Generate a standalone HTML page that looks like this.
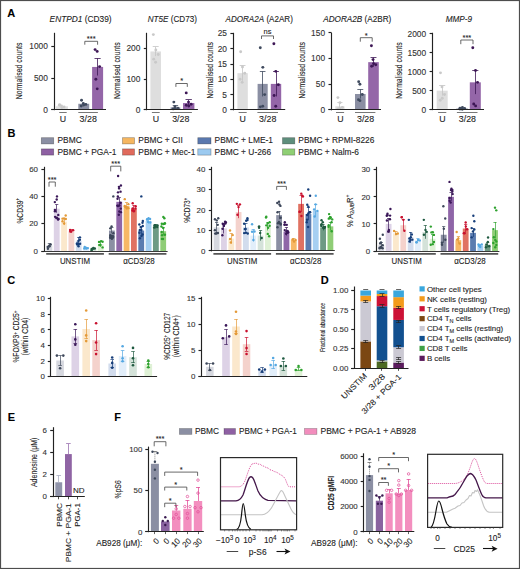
<!DOCTYPE html><html><head><meta charset="utf-8"><style>html,body{margin:0;padding:0;background:#fff;}svg{display:block;}text{font-family:"Liberation Sans",sans-serif;stroke:#1a1a1a;stroke-width:0.1px;paint-order:stroke;}</style></head><body><svg width="520" height="569" viewBox="0 0 520 569"><rect width="520" height="569" fill="#fff"/><rect x="0.5" y="0.5" width="519" height="568" fill="none" stroke="#4d4d4d" stroke-width="1.2"/>
<text x="7.30" y="17.00" font-size="11" text-anchor="start" fill="#000" font-weight="bold">A</text>
<text x="7.60" y="137.30" font-size="11" text-anchor="start" fill="#000" font-weight="bold">B</text>
<text x="7.30" y="283.90" font-size="11" text-anchor="start" fill="#000" font-weight="bold">C</text>
<text x="320.80" y="283.50" font-size="11" text-anchor="start" fill="#000" font-weight="bold">D</text>
<text x="7.80" y="420.70" font-size="11" text-anchor="start" fill="#000" font-weight="bold">E</text>
<text x="114.20" y="420.80" font-size="11" text-anchor="start" fill="#000" font-weight="bold">F</text>
<text x="49.60" y="22.3" font-size="8.2" fill="#222" textLength="62.00" lengthAdjust="spacingAndGlyphs"><tspan font-style="italic">ENTPD1</tspan> (CD39)</text>
<text x="22.40" y="70.90" font-size="8.4" text-anchor="middle" fill="#222" textLength="56.50" lengthAdjust="spacingAndGlyphs" transform="rotate(-90 22.40 70.90)">Normalised counts</text>
<rect x="55.80" y="106.31" width="12.10" height="3.49" fill="#dedede"/>
<circle cx="59.59" cy="104.72" r="1.45" fill="#c9c9c9"/>
<circle cx="61.50" cy="105.99" r="1.45" fill="#c9c9c9"/>
<circle cx="64.08" cy="106.94" r="1.45" fill="#c9c9c9"/>
<circle cx="59.34" cy="105.35" r="1.45" fill="#c9c9c9"/>
<circle cx="61.89" cy="107.58" r="1.45" fill="#c9c9c9"/>
<rect x="78.30" y="103.77" width="10.90" height="6.03" fill="#8b8fa3"/>
<circle cx="81.54" cy="100.27" r="1.45" fill="#3f4a5e"/>
<circle cx="83.31" cy="103.45" r="1.45" fill="#3f4a5e"/>
<circle cx="85.84" cy="104.40" r="1.45" fill="#3f4a5e"/>
<circle cx="81.21" cy="105.99" r="1.45" fill="#3f4a5e"/>
<circle cx="83.68" cy="105.04" r="1.45" fill="#3f4a5e"/>
<rect x="92.10" y="66.94" width="11.00" height="42.86" fill="#9466a8"/>
<line x1="97.50" y1="58.36" x2="97.50" y2="75.51" stroke="#3d1655" stroke-width="0.8"/>
<line x1="94.52" y1="58.50" x2="100.68" y2="58.50" stroke="#3d1655" stroke-width="0.8"/>
<circle cx="95.09" cy="49.60" r="1.45" fill="#3d1655"/>
<circle cx="97.19" cy="51.38" r="1.45" fill="#3d1655"/>
<circle cx="99.60" cy="66.62" r="1.45" fill="#3d1655"/>
<circle cx="95.85" cy="79.32" r="1.45" fill="#3d1655"/>
<circle cx="97.22" cy="88.84" r="1.45" fill="#3d1655"/>
<line x1="54.50" y1="32.80" x2="54.50" y2="110.20" stroke="#222" stroke-width="1.15"/>
<line x1="51.30" y1="109.50" x2="54.30" y2="109.50" stroke="#222" stroke-width="1.15"/>
<text x="47.90" y="112.70" font-size="8.4" text-anchor="end" fill="#333">0</text>
<line x1="51.30" y1="78.50" x2="54.30" y2="78.50" stroke="#222" stroke-width="1.15"/>
<text x="47.90" y="80.95" font-size="8.4" text-anchor="end" fill="#333">500</text>
<line x1="51.30" y1="46.50" x2="54.30" y2="46.50" stroke="#222" stroke-width="1.15"/>
<text x="47.90" y="49.20" font-size="8.4" text-anchor="end" fill="#333">1000</text>
<line x1="51.30" y1="109.50" x2="106.00" y2="109.50" stroke="#222" stroke-width="1.1"/>
<path d="M84.80 44.70V41.30H97.60V44.70" fill="none" stroke="#444" stroke-width="0.8"/>
<text x="91.20" y="40.60" font-size="7.5" text-anchor="middle" fill="#222">***</text>
<line x1="59.20" y1="112.50" x2="66.70" y2="112.50" stroke="#555" stroke-width="0.8"/>
<line x1="78.30" y1="112.50" x2="97.90" y2="112.50" stroke="#555" stroke-width="0.8"/>
<text x="63.00" y="121.80" font-size="8.8" text-anchor="middle" fill="#222">U</text>
<text x="88.20" y="121.80" font-size="8.8" text-anchor="middle" fill="#222" textLength="17.20" lengthAdjust="spacingAndGlyphs">3/28</text>
<text x="147.70" y="22.3" font-size="8.2" fill="#222" textLength="49.20" lengthAdjust="spacingAndGlyphs"><tspan font-style="italic">NT5E</tspan> (CD73)</text>
<text x="120.50" y="70.70" font-size="8.4" text-anchor="middle" fill="#222" textLength="56.50" lengthAdjust="spacingAndGlyphs" transform="rotate(-90 120.50 70.70)">Normalised counts</text>
<rect x="150.40" y="51.47" width="10.60" height="58.33" fill="#dedede"/>
<line x1="155.50" y1="46.86" x2="155.50" y2="56.07" stroke="#c4c4c4" stroke-width="0.8"/>
<line x1="152.73" y1="46.50" x2="158.67" y2="46.50" stroke="#c4c4c4" stroke-width="0.8"/>
<circle cx="153.34" cy="34.58" r="1.45" fill="#c9c9c9"/>
<circle cx="155.83" cy="49.93" r="1.45" fill="#c9c9c9"/>
<circle cx="158.23" cy="54.54" r="1.45" fill="#c9c9c9"/>
<circle cx="153.70" cy="59.14" r="1.45" fill="#c9c9c9"/>
<circle cx="155.60" cy="62.21" r="1.45" fill="#c9c9c9"/>
<rect x="170.60" y="107.34" width="9.70" height="2.46" fill="#8b8fa3"/>
<line x1="175.50" y1="105.50" x2="175.50" y2="109.19" stroke="#3f4a5e" stroke-width="0.8"/>
<line x1="172.73" y1="105.50" x2="178.17" y2="105.50" stroke="#3f4a5e" stroke-width="0.8"/>
<circle cx="173.85" cy="102.12" r="1.45" fill="#3f4a5e"/>
<circle cx="175.00" cy="106.73" r="1.45" fill="#3f4a5e"/>
<circle cx="177.89" cy="108.27" r="1.45" fill="#3f4a5e"/>
<circle cx="173.16" cy="108.88" r="1.45" fill="#3f4a5e"/>
<circle cx="175.09" cy="108.57" r="1.45" fill="#3f4a5e"/>
<rect x="183.00" y="103.05" width="11.40" height="6.75" fill="#9466a8"/>
<line x1="188.50" y1="99.98" x2="188.50" y2="106.12" stroke="#3d1655" stroke-width="0.8"/>
<line x1="185.51" y1="99.50" x2="191.89" y2="99.50" stroke="#3d1655" stroke-width="0.8"/>
<circle cx="186.24" cy="92.91" r="1.45" fill="#3d1655"/>
<circle cx="188.51" cy="102.12" r="1.45" fill="#3d1655"/>
<circle cx="191.10" cy="104.27" r="1.45" fill="#3d1655"/>
<circle cx="186.30" cy="105.19" r="1.45" fill="#3d1655"/>
<circle cx="188.78" cy="106.12" r="1.45" fill="#3d1655"/>
<line x1="146.50" y1="32.80" x2="146.50" y2="110.20" stroke="#222" stroke-width="1.15"/>
<line x1="143.80" y1="109.50" x2="146.80" y2="109.50" stroke="#222" stroke-width="1.15"/>
<text x="140.40" y="112.70" font-size="8.4" text-anchor="end" fill="#333">0</text>
<line x1="143.80" y1="79.50" x2="146.80" y2="79.50" stroke="#222" stroke-width="1.15"/>
<text x="140.40" y="82.00" font-size="8.4" text-anchor="end" fill="#333">100</text>
<line x1="143.80" y1="48.50" x2="146.80" y2="48.50" stroke="#222" stroke-width="1.15"/>
<text x="140.40" y="51.30" font-size="8.4" text-anchor="end" fill="#333">200</text>
<line x1="143.80" y1="109.50" x2="197.90" y2="109.50" stroke="#222" stroke-width="1.1"/>
<path d="M175.90 86.90V83.50H187.30V86.90" fill="none" stroke="#444" stroke-width="0.8"/>
<text x="181.60" y="83.40" font-size="7.5" text-anchor="middle" fill="#222">*</text>
<line x1="151.90" y1="112.50" x2="159.70" y2="112.50" stroke="#555" stroke-width="0.8"/>
<line x1="170.20" y1="112.50" x2="191.90" y2="112.50" stroke="#555" stroke-width="0.8"/>
<text x="155.90" y="121.80" font-size="8.8" text-anchor="middle" fill="#222">U</text>
<text x="180.80" y="121.80" font-size="8.8" text-anchor="middle" fill="#222" textLength="17.20" lengthAdjust="spacingAndGlyphs">3/28</text>
<text x="225.50" y="22.3" font-size="8.2" fill="#222" textLength="67.40" lengthAdjust="spacingAndGlyphs"><tspan font-style="italic">ADORA2A</tspan> (A2AR)</text>
<text x="212.70" y="70.30" font-size="8.4" text-anchor="middle" fill="#222" textLength="56.50" lengthAdjust="spacingAndGlyphs" transform="rotate(-90 212.70 70.30)">Normalised counts</text>
<rect x="237.40" y="73.18" width="10.40" height="36.72" fill="#dedede"/>
<line x1="242.50" y1="65.53" x2="242.50" y2="80.83" stroke="#c4c4c4" stroke-width="0.8"/>
<line x1="239.69" y1="65.50" x2="245.51" y2="65.50" stroke="#c4c4c4" stroke-width="0.8"/>
<circle cx="240.66" cy="51.76" r="1.45" fill="#c9c9c9"/>
<circle cx="242.47" cy="67.06" r="1.45" fill="#c9c9c9"/>
<circle cx="244.73" cy="73.18" r="1.45" fill="#c9c9c9"/>
<circle cx="240.08" cy="79.30" r="1.45" fill="#c9c9c9"/>
<circle cx="242.16" cy="82.36" r="1.45" fill="#c9c9c9"/>
<rect x="257.60" y="83.89" width="10.10" height="26.01" fill="#8b8fa3"/>
<line x1="262.50" y1="71.34" x2="262.50" y2="96.44" stroke="#3f4a5e" stroke-width="0.8"/>
<line x1="259.82" y1="71.50" x2="265.48" y2="71.50" stroke="#3f4a5e" stroke-width="0.8"/>
<circle cx="260.28" cy="47.78" r="1.45" fill="#3f4a5e"/>
<circle cx="262.83" cy="67.37" r="1.45" fill="#3f4a5e"/>
<circle cx="264.66" cy="94.60" r="1.45" fill="#3f4a5e"/>
<circle cx="260.38" cy="106.84" r="1.45" fill="#3f4a5e"/>
<circle cx="262.74" cy="106.23" r="1.45" fill="#3f4a5e"/>
<rect x="270.80" y="83.89" width="10.40" height="26.01" fill="#9466a8"/>
<line x1="276.50" y1="71.34" x2="276.50" y2="96.44" stroke="#3d1655" stroke-width="0.8"/>
<line x1="273.09" y1="71.50" x2="278.91" y2="71.50" stroke="#3d1655" stroke-width="0.8"/>
<circle cx="273.87" cy="43.80" r="1.45" fill="#3d1655"/>
<circle cx="275.80" cy="71.34" r="1.45" fill="#3d1655"/>
<circle cx="278.37" cy="84.81" r="1.45" fill="#3d1655"/>
<circle cx="274.12" cy="95.52" r="1.45" fill="#3d1655"/>
<circle cx="275.74" cy="106.23" r="1.45" fill="#3d1655"/>
<line x1="233.50" y1="32.80" x2="233.50" y2="110.30" stroke="#222" stroke-width="1.15"/>
<line x1="230.40" y1="109.50" x2="233.40" y2="109.50" stroke="#222" stroke-width="1.15"/>
<text x="227.00" y="112.80" font-size="8.4" text-anchor="end" fill="#333">0</text>
<line x1="230.40" y1="94.50" x2="233.40" y2="94.50" stroke="#222" stroke-width="1.15"/>
<text x="227.00" y="97.50" font-size="8.4" text-anchor="end" fill="#333">5</text>
<line x1="230.40" y1="79.50" x2="233.40" y2="79.50" stroke="#222" stroke-width="1.15"/>
<text x="227.00" y="82.20" font-size="8.4" text-anchor="end" fill="#333">10</text>
<line x1="230.40" y1="64.50" x2="233.40" y2="64.50" stroke="#222" stroke-width="1.15"/>
<text x="227.00" y="66.90" font-size="8.4" text-anchor="end" fill="#333">15</text>
<line x1="230.40" y1="48.50" x2="233.40" y2="48.50" stroke="#222" stroke-width="1.15"/>
<text x="227.00" y="51.60" font-size="8.4" text-anchor="end" fill="#333">20</text>
<line x1="230.40" y1="33.50" x2="233.40" y2="33.50" stroke="#222" stroke-width="1.15"/>
<text x="227.00" y="36.30" font-size="8.4" text-anchor="end" fill="#333">25</text>
<line x1="230.40" y1="109.50" x2="285.20" y2="109.50" stroke="#222" stroke-width="1.1"/>
<path d="M261.50 39.00V35.90H273.50V39.00" fill="none" stroke="#444" stroke-width="0.8"/>
<text x="267.50" y="33.60" font-size="7.5" text-anchor="middle" fill="#222">ns</text>
<line x1="238.60" y1="112.50" x2="246.70" y2="112.50" stroke="#555" stroke-width="0.8"/>
<line x1="257.40" y1="112.50" x2="278.00" y2="112.50" stroke="#555" stroke-width="0.8"/>
<text x="242.70" y="121.80" font-size="8.8" text-anchor="middle" fill="#222">U</text>
<text x="267.70" y="121.80" font-size="8.8" text-anchor="middle" fill="#222" textLength="17.20" lengthAdjust="spacingAndGlyphs">3/28</text>
<text x="323.20" y="22.3" font-size="8.2" fill="#222" textLength="68.10" lengthAdjust="spacingAndGlyphs"><tspan font-style="italic">ADORA2B</tspan> (A2BR)</text>
<text x="304.90" y="70.30" font-size="8.4" text-anchor="middle" fill="#222" textLength="56.50" lengthAdjust="spacingAndGlyphs" transform="rotate(-90 304.90 70.30)">Normalised counts</text>
<rect x="335.30" y="106.31" width="9.20" height="3.59" fill="#dedede"/>
<line x1="339.50" y1="102.71" x2="339.50" y2="109.90" stroke="#c4c4c4" stroke-width="0.8"/>
<line x1="337.32" y1="102.50" x2="342.48" y2="102.50" stroke="#c4c4c4" stroke-width="0.8"/>
<circle cx="337.89" cy="97.58" r="1.45" fill="#c9c9c9"/>
<circle cx="339.93" cy="102.71" r="1.45" fill="#c9c9c9"/>
<circle cx="342.36" cy="107.33" r="1.45" fill="#c9c9c9"/>
<circle cx="338.05" cy="108.87" r="1.45" fill="#c9c9c9"/>
<circle cx="339.69" cy="108.36" r="1.45" fill="#c9c9c9"/>
<rect x="355.00" y="93.99" width="10.60" height="15.91" fill="#8b8fa3"/>
<line x1="360.50" y1="89.37" x2="360.50" y2="98.61" stroke="#3f4a5e" stroke-width="0.8"/>
<line x1="357.33" y1="89.50" x2="363.27" y2="89.50" stroke="#3f4a5e" stroke-width="0.8"/>
<circle cx="358.70" cy="81.67" r="1.45" fill="#3f4a5e"/>
<circle cx="359.92" cy="84.23" r="1.45" fill="#3f4a5e"/>
<circle cx="362.30" cy="94.50" r="1.45" fill="#3f4a5e"/>
<circle cx="358.48" cy="99.63" r="1.45" fill="#3f4a5e"/>
<circle cx="359.95" cy="100.66" r="1.45" fill="#3f4a5e"/>
<rect x="368.20" y="62.16" width="10.60" height="47.74" fill="#9466a8"/>
<line x1="373.50" y1="57.54" x2="373.50" y2="66.78" stroke="#3d1655" stroke-width="0.8"/>
<line x1="370.53" y1="57.50" x2="376.47" y2="57.50" stroke="#3d1655" stroke-width="0.8"/>
<circle cx="371.41" cy="45.73" r="1.45" fill="#3d1655"/>
<circle cx="373.04" cy="59.59" r="1.45" fill="#3d1655"/>
<circle cx="375.75" cy="64.73" r="1.45" fill="#3d1655"/>
<circle cx="371.68" cy="66.27" r="1.45" fill="#3d1655"/>
<circle cx="373.57" cy="63.70" r="1.45" fill="#3d1655"/>
<line x1="331.50" y1="32.80" x2="331.50" y2="110.30" stroke="#222" stroke-width="1.15"/>
<line x1="328.50" y1="109.50" x2="331.50" y2="109.50" stroke="#222" stroke-width="1.15"/>
<text x="325.10" y="112.80" font-size="8.4" text-anchor="end" fill="#333">0</text>
<line x1="328.50" y1="84.50" x2="331.50" y2="84.50" stroke="#222" stroke-width="1.15"/>
<text x="325.10" y="87.13" font-size="8.4" text-anchor="end" fill="#333">50</text>
<line x1="328.50" y1="58.50" x2="331.50" y2="58.50" stroke="#222" stroke-width="1.15"/>
<text x="325.10" y="61.47" font-size="8.4" text-anchor="end" fill="#333">100</text>
<line x1="328.50" y1="32.50" x2="331.50" y2="32.50" stroke="#222" stroke-width="1.15"/>
<text x="325.10" y="35.80" font-size="8.4" text-anchor="end" fill="#333">150</text>
<line x1="328.50" y1="109.50" x2="381.00" y2="109.50" stroke="#222" stroke-width="1.1"/>
<path d="M360.30 41.70V37.70H372.20V41.70" fill="none" stroke="#444" stroke-width="0.8"/>
<text x="366.25" y="37.50" font-size="7.5" text-anchor="middle" fill="#222">*</text>
<line x1="336.00" y1="112.50" x2="344.10" y2="112.50" stroke="#555" stroke-width="0.8"/>
<line x1="355.00" y1="112.50" x2="375.40" y2="112.50" stroke="#555" stroke-width="0.8"/>
<text x="340.40" y="121.80" font-size="8.8" text-anchor="middle" fill="#222">U</text>
<text x="365.60" y="121.80" font-size="8.8" text-anchor="middle" fill="#222" textLength="17.20" lengthAdjust="spacingAndGlyphs">3/28</text>
<text x="445.70" y="22.3" font-size="8.2" fill="#222" textLength="26.30" lengthAdjust="spacingAndGlyphs"><tspan font-style="italic">MMP-9</tspan></text>
<text x="402.50" y="70.60" font-size="8.4" text-anchor="middle" fill="#222" textLength="56.50" lengthAdjust="spacingAndGlyphs" transform="rotate(-90 402.50 70.60)">Normalised counts</text>
<rect x="436.70" y="90.70" width="11.00" height="19.00" fill="#dedede"/>
<line x1="442.50" y1="85.76" x2="442.50" y2="95.64" stroke="#c4c4c4" stroke-width="0.8"/>
<line x1="439.12" y1="85.50" x2="445.28" y2="85.50" stroke="#c4c4c4" stroke-width="0.8"/>
<circle cx="440.50" cy="72.84" r="1.45" fill="#c9c9c9"/>
<circle cx="442.01" cy="86.90" r="1.45" fill="#c9c9c9"/>
<circle cx="444.48" cy="94.50" r="1.45" fill="#c9c9c9"/>
<circle cx="440.21" cy="100.20" r="1.45" fill="#c9c9c9"/>
<circle cx="442.28" cy="98.30" r="1.45" fill="#c9c9c9"/>
<rect x="456.30" y="108.56" width="11.60" height="1.14" fill="#8b8fa3"/>
<circle cx="459.98" cy="108.94" r="1.45" fill="#3f4a5e"/>
<circle cx="462.44" cy="107.42" r="1.45" fill="#3f4a5e"/>
<circle cx="464.62" cy="108.56" r="1.45" fill="#3f4a5e"/>
<circle cx="459.99" cy="108.18" r="1.45" fill="#3f4a5e"/>
<circle cx="462.26" cy="109.32" r="1.45" fill="#3f4a5e"/>
<rect x="469.80" y="82.34" width="11.00" height="27.36" fill="#9466a8"/>
<line x1="475.50" y1="70.56" x2="475.50" y2="94.12" stroke="#3d1655" stroke-width="0.8"/>
<line x1="472.22" y1="70.50" x2="478.38" y2="70.50" stroke="#3d1655" stroke-width="0.8"/>
<circle cx="472.78" cy="47.76" r="1.45" fill="#3d1655"/>
<circle cx="475.50" cy="70.56" r="1.45" fill="#3d1655"/>
<circle cx="477.53" cy="82.34" r="1.45" fill="#3d1655"/>
<circle cx="473.71" cy="104.00" r="1.45" fill="#3d1655"/>
<circle cx="475.62" cy="105.90" r="1.45" fill="#3d1655"/>
<line x1="432.50" y1="32.80" x2="432.50" y2="110.10" stroke="#222" stroke-width="1.15"/>
<line x1="429.60" y1="109.50" x2="432.60" y2="109.50" stroke="#222" stroke-width="1.15"/>
<text x="426.20" y="112.60" font-size="8.4" text-anchor="end" fill="#333">0</text>
<line x1="429.60" y1="90.50" x2="432.60" y2="90.50" stroke="#222" stroke-width="1.15"/>
<text x="426.20" y="93.60" font-size="8.4" text-anchor="end" fill="#333">500</text>
<line x1="429.60" y1="71.50" x2="432.60" y2="71.50" stroke="#222" stroke-width="1.15"/>
<text x="426.20" y="74.60" font-size="8.4" text-anchor="end" fill="#333">1000</text>
<line x1="429.60" y1="52.50" x2="432.60" y2="52.50" stroke="#222" stroke-width="1.15"/>
<text x="426.20" y="55.60" font-size="8.4" text-anchor="end" fill="#333">1500</text>
<line x1="429.60" y1="33.50" x2="432.60" y2="33.50" stroke="#222" stroke-width="1.15"/>
<text x="426.20" y="36.60" font-size="8.4" text-anchor="end" fill="#333">2000</text>
<line x1="429.60" y1="109.50" x2="484.00" y2="109.50" stroke="#222" stroke-width="1.1"/>
<path d="M460.80 44.20V40.00H473.00V44.20" fill="none" stroke="#444" stroke-width="0.8"/>
<text x="466.90" y="39.50" font-size="7.5" text-anchor="middle" fill="#222">***</text>
<line x1="438.10" y1="112.50" x2="446.30" y2="112.50" stroke="#555" stroke-width="0.8"/>
<line x1="456.90" y1="112.50" x2="477.50" y2="112.50" stroke="#555" stroke-width="0.8"/>
<text x="442.40" y="121.80" font-size="8.8" text-anchor="middle" fill="#222">U</text>
<text x="467.40" y="121.80" font-size="8.8" text-anchor="middle" fill="#222" textLength="17.20" lengthAdjust="spacingAndGlyphs">3/28</text>
<rect x="41.30" y="137.70" width="12.40" height="6.20" fill="#8b8fa3" stroke="#000" stroke-opacity="0.35" stroke-width="0.7"/>
<text x="57.50" y="143.40" font-size="8.4" text-anchor="start" fill="#222">PBMC</text>
<rect x="41.30" y="148.90" width="12.40" height="6.20" fill="#8e60a3" stroke="#000" stroke-opacity="0.35" stroke-width="0.7"/>
<text x="57.50" y="154.60" font-size="8.4" text-anchor="start" fill="#222">PBMC + PGA-1</text>
<rect x="122.50" y="137.70" width="12.00" height="6.20" fill="#f5b660" stroke="#000" stroke-opacity="0.35" stroke-width="0.7"/>
<text x="138.30" y="143.40" font-size="8.4" text-anchor="start" fill="#222">PBMC + CII</text>
<rect x="122.50" y="148.90" width="12.00" height="6.20" fill="#e06a5c" stroke="#000" stroke-opacity="0.35" stroke-width="0.7"/>
<text x="138.30" y="154.60" font-size="8.4" text-anchor="start" fill="#222">PBMC + Mec-1</text>
<rect x="197.80" y="137.70" width="13.20" height="6.20" fill="#5a78ae" stroke="#000" stroke-opacity="0.35" stroke-width="0.7"/>
<text x="214.60" y="143.40" font-size="8.4" text-anchor="start" fill="#222">PBMC + LME-1</text>
<rect x="197.80" y="148.90" width="13.20" height="6.20" fill="#9ccaf0" stroke="#000" stroke-opacity="0.35" stroke-width="0.7"/>
<text x="214.60" y="154.60" font-size="8.4" text-anchor="start" fill="#222">PBMC + U-266</text>
<rect x="282.50" y="137.70" width="12.30" height="6.20" fill="#5e8e7c" stroke="#000" stroke-opacity="0.35" stroke-width="0.7"/>
<text x="298.30" y="143.40" font-size="8.4" text-anchor="start" fill="#222">PBMC + RPMI-8226</text>
<rect x="282.50" y="148.90" width="12.30" height="6.20" fill="#8fcf74" stroke="#000" stroke-opacity="0.35" stroke-width="0.7"/>
<text x="298.30" y="154.60" font-size="8.4" text-anchor="start" fill="#222">PBMC + Nalm-6</text>
<rect x="46.50" y="245.54" width="5.80" height="5.46" fill="#d6d8df"/>
<line x1="49.50" y1="243.49" x2="49.50" y2="247.59" stroke="#3d475a" stroke-width="0.7"/>
<line x1="47.80" y1="243.50" x2="51.00" y2="243.50" stroke="#3d475a" stroke-width="0.7"/>
<circle cx="47.74" cy="247.01" r="1.2" fill="#3d475a"/>
<circle cx="49.61" cy="246.32" r="1.2" fill="#3d475a"/>
<circle cx="50.73" cy="244.39" r="1.2" fill="#3d475a"/>
<circle cx="47.90" cy="248.80" r="1.2" fill="#3d475a"/>
<circle cx="49.14" cy="245.80" r="1.2" fill="#3d475a"/>
<rect x="53.83" y="208.69" width="5.80" height="42.31" fill="#ddd2e6"/>
<line x1="56.50" y1="204.59" x2="56.50" y2="212.78" stroke="#3a1758" stroke-width="0.7"/>
<line x1="55.13" y1="204.50" x2="58.33" y2="204.50" stroke="#3a1758" stroke-width="0.7"/>
<circle cx="55.11" cy="216.84" r="1.2" fill="#3a1758"/>
<circle cx="56.34" cy="218.09" r="1.2" fill="#3a1758"/>
<circle cx="58.03" cy="219.52" r="1.2" fill="#3a1758"/>
<circle cx="54.84" cy="202.09" r="1.2" fill="#3a1758"/>
<circle cx="56.92" cy="217.79" r="1.2" fill="#3a1758"/>
<circle cx="58.27" cy="214.89" r="1.2" fill="#3a1758"/>
<circle cx="54.98" cy="211.36" r="1.2" fill="#3a1758"/>
<circle cx="56.71" cy="199.56" r="1.2" fill="#3a1758"/>
<circle cx="58.58" cy="218.99" r="1.2" fill="#3a1758"/>
<circle cx="54.92" cy="209.93" r="1.2" fill="#3a1758"/>
<circle cx="56.99" cy="196.40" r="1.2" fill="#3a1758"/>
<rect x="61.16" y="221.65" width="5.80" height="29.35" fill="#fbe8cc"/>
<line x1="64.50" y1="218.24" x2="64.50" y2="225.06" stroke="#e49a38" stroke-width="0.7"/>
<line x1="62.46" y1="218.50" x2="65.66" y2="218.50" stroke="#e49a38" stroke-width="0.7"/>
<circle cx="62.51" cy="221.25" r="1.2" fill="#e49a38"/>
<circle cx="64.06" cy="218.51" r="1.2" fill="#e49a38"/>
<circle cx="65.83" cy="219.04" r="1.2" fill="#e49a38"/>
<circle cx="62.47" cy="218.67" r="1.2" fill="#e49a38"/>
<circle cx="64.07" cy="223.47" r="1.2" fill="#e49a38"/>
<circle cx="65.71" cy="215.51" r="1.2" fill="#e49a38"/>
<rect x="68.49" y="231.21" width="5.80" height="19.79" fill="#f4d2cc"/>
<line x1="71.50" y1="229.84" x2="71.50" y2="232.57" stroke="#c8102e" stroke-width="0.7"/>
<line x1="69.79" y1="229.50" x2="72.99" y2="229.50" stroke="#c8102e" stroke-width="0.7"/>
<circle cx="70.28" cy="231.44" r="1.2" fill="#c8102e"/>
<circle cx="71.26" cy="231.59" r="1.2" fill="#c8102e"/>
<circle cx="73.16" cy="230.16" r="1.2" fill="#c8102e"/>
<circle cx="70.06" cy="229.96" r="1.2" fill="#c8102e"/>
<rect x="75.82" y="240.76" width="5.80" height="10.24" fill="#d2dced"/>
<line x1="78.50" y1="237.35" x2="78.50" y2="244.18" stroke="#173e7a" stroke-width="0.7"/>
<line x1="77.12" y1="237.50" x2="80.32" y2="237.50" stroke="#173e7a" stroke-width="0.7"/>
<circle cx="77.33" cy="244.57" r="1.2" fill="#173e7a"/>
<circle cx="78.64" cy="244.30" r="1.2" fill="#173e7a"/>
<circle cx="80.10" cy="243.69" r="1.2" fill="#173e7a"/>
<circle cx="76.86" cy="243.67" r="1.2" fill="#173e7a"/>
<circle cx="78.42" cy="240.93" r="1.2" fill="#173e7a"/>
<circle cx="79.88" cy="239.79" r="1.2" fill="#173e7a"/>
<circle cx="77.41" cy="243.35" r="1.2" fill="#173e7a"/>
<circle cx="78.52" cy="246.18" r="1.2" fill="#173e7a"/>
<circle cx="79.95" cy="237.35" r="1.2" fill="#173e7a"/>
<rect x="83.15" y="248.27" width="5.80" height="2.73" fill="#e2eefa"/>
<line x1="86.50" y1="247.59" x2="86.50" y2="248.95" stroke="#55a8e2" stroke-width="0.7"/>
<line x1="84.45" y1="247.50" x2="87.65" y2="247.50" stroke="#55a8e2" stroke-width="0.7"/>
<circle cx="84.22" cy="248.49" r="1.2" fill="#55a8e2"/>
<circle cx="86.32" cy="248.63" r="1.2" fill="#55a8e2"/>
<circle cx="87.85" cy="248.09" r="1.2" fill="#55a8e2"/>
<circle cx="84.69" cy="247.03" r="1.2" fill="#55a8e2"/>
<circle cx="85.88" cy="247.75" r="1.2" fill="#55a8e2"/>
<rect x="90.48" y="248.95" width="5.80" height="2.05" fill="#d4e2d9"/>
<line x1="93.50" y1="248.27" x2="93.50" y2="249.63" stroke="#1f5a40" stroke-width="0.7"/>
<line x1="91.78" y1="248.50" x2="94.98" y2="248.50" stroke="#1f5a40" stroke-width="0.7"/>
<circle cx="91.67" cy="248.91" r="1.2" fill="#1f5a40"/>
<circle cx="93.21" cy="248.63" r="1.2" fill="#1f5a40"/>
<circle cx="94.85" cy="248.47" r="1.2" fill="#1f5a40"/>
<circle cx="91.61" cy="250.17" r="1.2" fill="#1f5a40"/>
<circle cx="93.34" cy="247.86" r="1.2" fill="#1f5a40"/>
<rect x="97.81" y="244.18" width="5.80" height="6.82" fill="#dff1d6"/>
<line x1="100.50" y1="241.44" x2="100.50" y2="246.91" stroke="#2ea22e" stroke-width="0.7"/>
<line x1="99.11" y1="241.50" x2="102.31" y2="241.50" stroke="#2ea22e" stroke-width="0.7"/>
<circle cx="99.02" cy="241.88" r="1.2" fill="#2ea22e"/>
<circle cx="101.08" cy="241.11" r="1.2" fill="#2ea22e"/>
<circle cx="102.59" cy="241.74" r="1.2" fill="#2ea22e"/>
<circle cx="99.25" cy="245.06" r="1.2" fill="#2ea22e"/>
<circle cx="100.51" cy="245.00" r="1.2" fill="#2ea22e"/>
<circle cx="102.58" cy="247.42" r="1.2" fill="#2ea22e"/>
<line x1="46.20" y1="253.90" x2="103.91" y2="253.90" stroke="#555" stroke-width="1.6"/>
<rect x="109.00" y="230.53" width="5.80" height="20.47" fill="#8b8fa3"/>
<line x1="111.50" y1="227.80" x2="111.50" y2="233.25" stroke="#3d475a" stroke-width="0.7"/>
<line x1="110.30" y1="227.50" x2="113.50" y2="227.50" stroke="#3d475a" stroke-width="0.7"/>
<circle cx="110.25" cy="228.33" r="1.2" fill="#3d475a"/>
<circle cx="111.79" cy="237.70" r="1.2" fill="#3d475a"/>
<circle cx="113.00" cy="237.61" r="1.2" fill="#3d475a"/>
<circle cx="110.31" cy="235.30" r="1.2" fill="#3d475a"/>
<circle cx="111.88" cy="236.06" r="1.2" fill="#3d475a"/>
<circle cx="113.40" cy="233.14" r="1.2" fill="#3d475a"/>
<circle cx="110.16" cy="237.85" r="1.2" fill="#3d475a"/>
<circle cx="111.90" cy="238.71" r="1.2" fill="#3d475a"/>
<circle cx="113.00" cy="236.24" r="1.2" fill="#3d475a"/>
<circle cx="110.21" cy="237.05" r="1.2" fill="#3d475a"/>
<circle cx="111.57" cy="226.43" r="1.2" fill="#3d475a"/>
<circle cx="113.32" cy="196.40" r="1.2" fill="#3d475a"/>
<rect x="116.33" y="201.86" width="5.80" height="49.14" fill="#8f66a8"/>
<line x1="119.50" y1="197.76" x2="119.50" y2="205.95" stroke="#3a1758" stroke-width="0.7"/>
<line x1="117.63" y1="197.50" x2="120.83" y2="197.50" stroke="#3a1758" stroke-width="0.7"/>
<circle cx="117.36" cy="205.58" r="1.2" fill="#3a1758"/>
<circle cx="118.85" cy="214.81" r="1.2" fill="#3a1758"/>
<circle cx="120.57" cy="191.64" r="1.2" fill="#3a1758"/>
<circle cx="117.52" cy="198.75" r="1.2" fill="#3a1758"/>
<circle cx="119.30" cy="211.45" r="1.2" fill="#3a1758"/>
<circle cx="120.75" cy="208.62" r="1.2" fill="#3a1758"/>
<circle cx="117.93" cy="206.03" r="1.2" fill="#3a1758"/>
<circle cx="119.36" cy="205.57" r="1.2" fill="#3a1758"/>
<circle cx="120.90" cy="212.16" r="1.2" fill="#3a1758"/>
<circle cx="118.03" cy="192.33" r="1.2" fill="#3a1758"/>
<circle cx="119.14" cy="188.40" r="1.2" fill="#3a1758"/>
<circle cx="120.59" cy="202.79" r="1.2" fill="#3a1758"/>
<circle cx="118.12" cy="175.93" r="1.2" fill="#3a1758"/>
<circle cx="118.95" cy="186.84" r="1.2" fill="#3a1758"/>
<circle cx="120.91" cy="185.48" r="1.2" fill="#3a1758"/>
<circle cx="117.84" cy="196.40" r="1.2" fill="#3a1758"/>
<rect x="123.66" y="205.95" width="5.80" height="45.05" fill="#f7b865"/>
<line x1="126.50" y1="202.54" x2="126.50" y2="209.37" stroke="#e49a38" stroke-width="0.7"/>
<line x1="124.96" y1="202.50" x2="128.16" y2="202.50" stroke="#e49a38" stroke-width="0.7"/>
<circle cx="124.70" cy="206.04" r="1.2" fill="#e49a38"/>
<circle cx="126.83" cy="208.22" r="1.2" fill="#e49a38"/>
<circle cx="128.37" cy="208.13" r="1.2" fill="#e49a38"/>
<circle cx="125.16" cy="206.81" r="1.2" fill="#e49a38"/>
<circle cx="126.75" cy="207.24" r="1.2" fill="#e49a38"/>
<circle cx="128.31" cy="204.16" r="1.2" fill="#e49a38"/>
<circle cx="124.77" cy="199.13" r="1.2" fill="#e49a38"/>
<rect x="130.99" y="208.69" width="5.80" height="42.31" fill="#e07262"/>
<line x1="133.50" y1="205.27" x2="133.50" y2="212.10" stroke="#c8102e" stroke-width="0.7"/>
<line x1="132.29" y1="205.50" x2="135.49" y2="205.50" stroke="#c8102e" stroke-width="0.7"/>
<circle cx="132.41" cy="210.53" r="1.2" fill="#c8102e"/>
<circle cx="133.89" cy="211.29" r="1.2" fill="#c8102e"/>
<circle cx="135.66" cy="206.22" r="1.2" fill="#c8102e"/>
<circle cx="132.63" cy="208.53" r="1.2" fill="#c8102e"/>
<circle cx="134.15" cy="210.61" r="1.2" fill="#c8102e"/>
<circle cx="135.46" cy="208.45" r="1.2" fill="#c8102e"/>
<circle cx="132.70" cy="203.22" r="1.2" fill="#c8102e"/>
<rect x="138.32" y="230.53" width="5.80" height="20.47" fill="#5b7cb0"/>
<line x1="141.50" y1="226.43" x2="141.50" y2="234.62" stroke="#173e7a" stroke-width="0.7"/>
<line x1="139.62" y1="226.50" x2="142.82" y2="226.50" stroke="#173e7a" stroke-width="0.7"/>
<circle cx="139.87" cy="238.27" r="1.2" fill="#173e7a"/>
<circle cx="141.37" cy="230.06" r="1.2" fill="#173e7a"/>
<circle cx="142.50" cy="222.69" r="1.2" fill="#173e7a"/>
<circle cx="139.34" cy="224.57" r="1.2" fill="#173e7a"/>
<circle cx="140.93" cy="227.31" r="1.2" fill="#173e7a"/>
<circle cx="142.61" cy="234.44" r="1.2" fill="#173e7a"/>
<circle cx="139.40" cy="232.71" r="1.2" fill="#173e7a"/>
<circle cx="141.49" cy="235.98" r="1.2" fill="#173e7a"/>
<circle cx="142.77" cy="226.07" r="1.2" fill="#173e7a"/>
<circle cx="139.82" cy="229.99" r="1.2" fill="#173e7a"/>
<circle cx="141.32" cy="196.40" r="1.2" fill="#173e7a"/>
<circle cx="142.86" cy="220.97" r="1.2" fill="#173e7a"/>
<rect x="145.65" y="220.97" width="5.80" height="30.03" fill="#a6cff2"/>
<line x1="148.50" y1="218.24" x2="148.50" y2="223.70" stroke="#55a8e2" stroke-width="0.7"/>
<line x1="146.95" y1="218.50" x2="150.15" y2="218.50" stroke="#55a8e2" stroke-width="0.7"/>
<circle cx="147.04" cy="219.45" r="1.2" fill="#55a8e2"/>
<circle cx="148.15" cy="221.90" r="1.2" fill="#55a8e2"/>
<circle cx="150.29" cy="222.48" r="1.2" fill="#55a8e2"/>
<circle cx="147.25" cy="219.27" r="1.2" fill="#55a8e2"/>
<circle cx="148.55" cy="218.32" r="1.2" fill="#55a8e2"/>
<circle cx="150.08" cy="219.04" r="1.2" fill="#55a8e2"/>
<rect x="152.98" y="226.43" width="5.80" height="24.57" fill="#6e9a84"/>
<line x1="155.50" y1="224.38" x2="155.50" y2="228.48" stroke="#1f5a40" stroke-width="0.7"/>
<line x1="154.28" y1="224.50" x2="157.48" y2="224.50" stroke="#1f5a40" stroke-width="0.7"/>
<circle cx="154.51" cy="225.18" r="1.2" fill="#1f5a40"/>
<circle cx="155.53" cy="225.13" r="1.2" fill="#1f5a40"/>
<circle cx="157.57" cy="225.45" r="1.2" fill="#1f5a40"/>
<circle cx="154.18" cy="227.55" r="1.2" fill="#1f5a40"/>
<circle cx="155.54" cy="226.36" r="1.2" fill="#1f5a40"/>
<circle cx="157.19" cy="227.02" r="1.2" fill="#1f5a40"/>
<rect x="160.31" y="231.21" width="5.80" height="19.79" fill="#8fcd76"/>
<line x1="163.50" y1="227.11" x2="163.50" y2="235.30" stroke="#2ea22e" stroke-width="0.7"/>
<line x1="161.61" y1="227.50" x2="164.81" y2="227.50" stroke="#2ea22e" stroke-width="0.7"/>
<circle cx="161.89" cy="238.92" r="1.2" fill="#2ea22e"/>
<circle cx="162.97" cy="238.94" r="1.2" fill="#2ea22e"/>
<circle cx="164.90" cy="234.82" r="1.2" fill="#2ea22e"/>
<circle cx="162.09" cy="235.15" r="1.2" fill="#2ea22e"/>
<circle cx="163.21" cy="228.05" r="1.2" fill="#2ea22e"/>
<circle cx="164.62" cy="223.73" r="1.2" fill="#2ea22e"/>
<circle cx="161.69" cy="232.07" r="1.2" fill="#2ea22e"/>
<circle cx="163.36" cy="224.05" r="1.2" fill="#2ea22e"/>
<circle cx="164.92" cy="223.21" r="1.2" fill="#2ea22e"/>
<circle cx="161.80" cy="223.75" r="1.2" fill="#2ea22e"/>
<circle cx="163.32" cy="216.88" r="1.2" fill="#2ea22e"/>
<circle cx="164.37" cy="218.24" r="1.2" fill="#2ea22e"/>
<circle cx="161.43" cy="226.43" r="1.2" fill="#2ea22e"/>
<line x1="108.70" y1="253.90" x2="166.41" y2="253.90" stroke="#555" stroke-width="1.6"/>
<line x1="44.50" y1="166.80" x2="44.50" y2="251.40" stroke="#222" stroke-width="1.15"/>
<line x1="41.40" y1="251.50" x2="44.40" y2="251.50" stroke="#222" stroke-width="1.15"/>
<text x="38.00" y="253.70" font-size="7.9" text-anchor="end" fill="#333">0</text>
<line x1="41.40" y1="223.50" x2="44.40" y2="223.50" stroke="#222" stroke-width="1.15"/>
<text x="38.00" y="226.40" font-size="7.9" text-anchor="end" fill="#333">20</text>
<line x1="41.40" y1="196.50" x2="44.40" y2="196.50" stroke="#222" stroke-width="1.15"/>
<text x="38.00" y="199.10" font-size="7.9" text-anchor="end" fill="#333">40</text>
<line x1="41.40" y1="169.50" x2="44.40" y2="169.50" stroke="#222" stroke-width="1.15"/>
<text x="38.00" y="171.80" font-size="7.9" text-anchor="end" fill="#333">60</text>
<line x1="41.40" y1="251.50" x2="167.61" y2="251.50" stroke="#222" stroke-width="0.9"/>
<path d="M49.00 186.70V182.00H55.30V186.70" fill="none" stroke="#444" stroke-width="0.8"/>
<text x="52.15" y="181.60" font-size="7.5" text-anchor="middle" fill="#222">***</text>
<path d="M110.70 171.40V166.20H120.80V171.40" fill="none" stroke="#444" stroke-width="0.8"/>
<text x="115.75" y="165.80" font-size="7.5" text-anchor="middle" fill="#222">***</text>
<text x="75.00" y="264.00" font-size="8.6" text-anchor="middle" fill="#222" textLength="30.20" lengthAdjust="spacingAndGlyphs">UNSTIM</text>
<text x="139.00" y="264.00" font-size="8.6" text-anchor="middle" fill="#222" textLength="31.50" lengthAdjust="spacingAndGlyphs">αCD3/28</text>
<text x="22.6" y="210.8" font-size="8.8" text-anchor="middle" fill="#222" textLength="25.5" lengthAdjust="spacingAndGlyphs" transform="rotate(-90 22.6 210.8)">%CD39<tspan font-size="5.8" dy="-3.3">+</tspan></text>
<rect x="213.70" y="227.38" width="5.80" height="23.52" fill="#d6d8df"/>
<line x1="216.50" y1="222.27" x2="216.50" y2="232.50" stroke="#3d475a" stroke-width="0.7"/>
<line x1="215.00" y1="222.50" x2="218.20" y2="222.50" stroke="#3d475a" stroke-width="0.7"/>
<circle cx="214.90" cy="230.15" r="1.2" fill="#3d475a"/>
<circle cx="216.79" cy="233.10" r="1.2" fill="#3d475a"/>
<circle cx="217.94" cy="232.97" r="1.2" fill="#3d475a"/>
<circle cx="215.15" cy="233.58" r="1.2" fill="#3d475a"/>
<circle cx="216.21" cy="233.43" r="1.2" fill="#3d475a"/>
<circle cx="217.75" cy="224.85" r="1.2" fill="#3d475a"/>
<circle cx="214.92" cy="219.20" r="1.2" fill="#3d475a"/>
<circle cx="216.74" cy="220.42" r="1.2" fill="#3d475a"/>
<circle cx="218.25" cy="218.18" r="1.2" fill="#3d475a"/>
<rect x="221.03" y="228.41" width="5.80" height="22.50" fill="#ddd2e6"/>
<line x1="223.50" y1="223.29" x2="223.50" y2="233.52" stroke="#3a1758" stroke-width="0.7"/>
<line x1="222.33" y1="223.50" x2="225.53" y2="223.50" stroke="#3a1758" stroke-width="0.7"/>
<circle cx="222.57" cy="228.74" r="1.2" fill="#3a1758"/>
<circle cx="223.76" cy="225.90" r="1.2" fill="#3a1758"/>
<circle cx="225.44" cy="223.50" r="1.2" fill="#3a1758"/>
<circle cx="222.40" cy="235.20" r="1.2" fill="#3a1758"/>
<circle cx="223.90" cy="225.78" r="1.2" fill="#3a1758"/>
<circle cx="225.12" cy="221.70" r="1.2" fill="#3a1758"/>
<circle cx="222.74" cy="223.79" r="1.2" fill="#3a1758"/>
<circle cx="223.69" cy="224.31" r="1.2" fill="#3a1758"/>
<circle cx="225.81" cy="222.27" r="1.2" fill="#3a1758"/>
<rect x="228.36" y="238.63" width="5.80" height="12.27" fill="#fbe8cc"/>
<line x1="231.50" y1="233.52" x2="231.50" y2="243.74" stroke="#e49a38" stroke-width="0.7"/>
<line x1="229.66" y1="233.50" x2="232.86" y2="233.50" stroke="#e49a38" stroke-width="0.7"/>
<circle cx="230.11" cy="238.90" r="1.2" fill="#e49a38"/>
<circle cx="230.87" cy="242.57" r="1.2" fill="#e49a38"/>
<circle cx="232.73" cy="235.08" r="1.2" fill="#e49a38"/>
<circle cx="230.02" cy="230.45" r="1.2" fill="#e49a38"/>
<rect x="235.69" y="212.05" width="5.80" height="38.85" fill="#f4d2cc"/>
<line x1="238.50" y1="205.91" x2="238.50" y2="218.18" stroke="#c8102e" stroke-width="0.7"/>
<line x1="236.99" y1="205.50" x2="240.19" y2="205.50" stroke="#c8102e" stroke-width="0.7"/>
<circle cx="237.46" cy="214.79" r="1.2" fill="#c8102e"/>
<circle cx="238.55" cy="207.12" r="1.2" fill="#c8102e"/>
<circle cx="239.90" cy="204.33" r="1.2" fill="#c8102e"/>
<circle cx="236.86" cy="203.87" r="1.2" fill="#c8102e"/>
<rect x="243.02" y="227.38" width="5.80" height="23.52" fill="#d2dced"/>
<line x1="245.50" y1="223.29" x2="245.50" y2="231.47" stroke="#173e7a" stroke-width="0.7"/>
<line x1="244.32" y1="223.50" x2="247.52" y2="223.50" stroke="#173e7a" stroke-width="0.7"/>
<circle cx="244.78" cy="229.09" r="1.2" fill="#173e7a"/>
<circle cx="245.69" cy="229.00" r="1.2" fill="#173e7a"/>
<circle cx="247.49" cy="220.07" r="1.2" fill="#173e7a"/>
<circle cx="244.13" cy="223.70" r="1.2" fill="#173e7a"/>
<circle cx="245.94" cy="232.78" r="1.2" fill="#173e7a"/>
<circle cx="247.78" cy="233.48" r="1.2" fill="#173e7a"/>
<circle cx="244.13" cy="233.09" r="1.2" fill="#173e7a"/>
<circle cx="246.18" cy="220.76" r="1.2" fill="#173e7a"/>
<circle cx="247.43" cy="218.18" r="1.2" fill="#173e7a"/>
<rect x="250.35" y="235.56" width="5.80" height="15.34" fill="#e2eefa"/>
<line x1="253.50" y1="229.43" x2="253.50" y2="241.70" stroke="#55a8e2" stroke-width="0.7"/>
<line x1="251.65" y1="229.50" x2="254.85" y2="229.50" stroke="#55a8e2" stroke-width="0.7"/>
<circle cx="252.06" cy="231.80" r="1.2" fill="#55a8e2"/>
<circle cx="253.41" cy="239.90" r="1.2" fill="#55a8e2"/>
<circle cx="254.54" cy="231.56" r="1.2" fill="#55a8e2"/>
<circle cx="252.07" cy="224.31" r="1.2" fill="#55a8e2"/>
<rect x="257.68" y="235.56" width="5.80" height="15.34" fill="#d4e2d9"/>
<line x1="260.50" y1="230.45" x2="260.50" y2="240.68" stroke="#1f5a40" stroke-width="0.7"/>
<line x1="258.98" y1="230.50" x2="262.18" y2="230.50" stroke="#1f5a40" stroke-width="0.7"/>
<circle cx="259.07" cy="227.70" r="1.2" fill="#1f5a40"/>
<circle cx="260.20" cy="232.99" r="1.2" fill="#1f5a40"/>
<circle cx="261.68" cy="238.01" r="1.2" fill="#1f5a40"/>
<circle cx="259.07" cy="226.36" r="1.2" fill="#1f5a40"/>
<rect x="265.01" y="226.36" width="5.80" height="24.54" fill="#dff1d6"/>
<line x1="267.50" y1="222.27" x2="267.50" y2="230.45" stroke="#2ea22e" stroke-width="0.7"/>
<line x1="266.31" y1="222.50" x2="269.51" y2="222.50" stroke="#2ea22e" stroke-width="0.7"/>
<circle cx="266.37" cy="225.36" r="1.2" fill="#2ea22e"/>
<circle cx="267.75" cy="233.91" r="1.2" fill="#2ea22e"/>
<circle cx="269.12" cy="236.29" r="1.2" fill="#2ea22e"/>
<circle cx="266.29" cy="216.73" r="1.2" fill="#2ea22e"/>
<circle cx="267.76" cy="223.30" r="1.2" fill="#2ea22e"/>
<circle cx="269.68" cy="225.82" r="1.2" fill="#2ea22e"/>
<circle cx="266.01" cy="217.49" r="1.2" fill="#2ea22e"/>
<circle cx="268.11" cy="227.71" r="1.2" fill="#2ea22e"/>
<circle cx="269.68" cy="222.27" r="1.2" fill="#2ea22e"/>
<line x1="213.40" y1="253.90" x2="271.11" y2="253.90" stroke="#555" stroke-width="1.6"/>
<rect x="276.20" y="215.11" width="5.80" height="35.79" fill="#8b8fa3"/>
<line x1="279.50" y1="211.02" x2="279.50" y2="219.20" stroke="#3d475a" stroke-width="0.7"/>
<line x1="277.50" y1="211.50" x2="280.70" y2="211.50" stroke="#3d475a" stroke-width="0.7"/>
<circle cx="277.30" cy="202.95" r="1.2" fill="#3d475a"/>
<circle cx="279.44" cy="204.44" r="1.2" fill="#3d475a"/>
<circle cx="280.77" cy="224.57" r="1.2" fill="#3d475a"/>
<circle cx="277.92" cy="223.23" r="1.2" fill="#3d475a"/>
<circle cx="278.93" cy="221.89" r="1.2" fill="#3d475a"/>
<circle cx="280.50" cy="223.60" r="1.2" fill="#3d475a"/>
<circle cx="277.51" cy="212.28" r="1.2" fill="#3d475a"/>
<circle cx="279.50" cy="222.99" r="1.2" fill="#3d475a"/>
<circle cx="280.67" cy="217.76" r="1.2" fill="#3d475a"/>
<circle cx="277.49" cy="227.18" r="1.2" fill="#3d475a"/>
<circle cx="279.04" cy="201.82" r="1.2" fill="#3d475a"/>
<circle cx="280.42" cy="205.91" r="1.2" fill="#3d475a"/>
<rect x="283.53" y="231.47" width="5.80" height="19.43" fill="#8f66a8"/>
<line x1="286.50" y1="227.38" x2="286.50" y2="235.56" stroke="#3a1758" stroke-width="0.7"/>
<line x1="284.83" y1="227.50" x2="288.03" y2="227.50" stroke="#3a1758" stroke-width="0.7"/>
<circle cx="284.57" cy="224.76" r="1.2" fill="#3a1758"/>
<circle cx="286.11" cy="233.86" r="1.2" fill="#3a1758"/>
<circle cx="288.20" cy="232.16" r="1.2" fill="#3a1758"/>
<circle cx="284.76" cy="230.11" r="1.2" fill="#3a1758"/>
<circle cx="286.78" cy="224.86" r="1.2" fill="#3a1758"/>
<circle cx="287.73" cy="232.77" r="1.2" fill="#3a1758"/>
<circle cx="284.74" cy="224.64" r="1.2" fill="#3a1758"/>
<circle cx="286.44" cy="231.45" r="1.2" fill="#3a1758"/>
<circle cx="287.68" cy="230.95" r="1.2" fill="#3a1758"/>
<circle cx="284.83" cy="222.27" r="1.2" fill="#3a1758"/>
<rect x="290.86" y="239.65" width="5.80" height="11.25" fill="#f7b865"/>
<line x1="293.50" y1="238.02" x2="293.50" y2="241.29" stroke="#e49a38" stroke-width="0.7"/>
<line x1="292.16" y1="238.50" x2="295.36" y2="238.50" stroke="#e49a38" stroke-width="0.7"/>
<circle cx="292.62" cy="239.56" r="1.2" fill="#e49a38"/>
<circle cx="294.07" cy="241.62" r="1.2" fill="#e49a38"/>
<circle cx="295.51" cy="239.90" r="1.2" fill="#e49a38"/>
<rect x="298.19" y="203.87" width="5.80" height="47.03" fill="#e07262"/>
<line x1="301.50" y1="195.69" x2="301.50" y2="212.05" stroke="#c8102e" stroke-width="0.7"/>
<line x1="299.49" y1="195.50" x2="302.69" y2="195.50" stroke="#c8102e" stroke-width="0.7"/>
<circle cx="299.69" cy="211.64" r="1.2" fill="#c8102e"/>
<circle cx="301.42" cy="216.04" r="1.2" fill="#c8102e"/>
<circle cx="302.94" cy="196.52" r="1.2" fill="#c8102e"/>
<circle cx="299.63" cy="211.91" r="1.2" fill="#c8102e"/>
<circle cx="301.27" cy="193.64" r="1.2" fill="#c8102e"/>
<circle cx="302.23" cy="195.69" r="1.2" fill="#c8102e"/>
<rect x="305.52" y="214.09" width="5.80" height="36.81" fill="#5b7cb0"/>
<line x1="308.50" y1="207.95" x2="308.50" y2="220.22" stroke="#173e7a" stroke-width="0.7"/>
<line x1="306.82" y1="207.50" x2="310.02" y2="207.50" stroke="#173e7a" stroke-width="0.7"/>
<circle cx="307.11" cy="214.96" r="1.2" fill="#173e7a"/>
<circle cx="308.38" cy="206.72" r="1.2" fill="#173e7a"/>
<circle cx="310.12" cy="212.24" r="1.2" fill="#173e7a"/>
<circle cx="307.04" cy="219.78" r="1.2" fill="#173e7a"/>
<circle cx="308.25" cy="213.49" r="1.2" fill="#173e7a"/>
<circle cx="309.56" cy="212.28" r="1.2" fill="#173e7a"/>
<circle cx="307.26" cy="204.79" r="1.2" fill="#173e7a"/>
<circle cx="308.12" cy="226.98" r="1.2" fill="#173e7a"/>
<circle cx="309.90" cy="212.12" r="1.2" fill="#173e7a"/>
<circle cx="306.79" cy="222.32" r="1.2" fill="#173e7a"/>
<circle cx="308.26" cy="189.55" r="1.2" fill="#173e7a"/>
<circle cx="310.11" cy="195.69" r="1.2" fill="#173e7a"/>
<rect x="312.85" y="211.02" width="5.80" height="39.88" fill="#a6cff2"/>
<line x1="315.50" y1="204.89" x2="315.50" y2="217.16" stroke="#55a8e2" stroke-width="0.7"/>
<line x1="314.15" y1="204.50" x2="317.35" y2="204.50" stroke="#55a8e2" stroke-width="0.7"/>
<circle cx="314.63" cy="216.50" r="1.2" fill="#55a8e2"/>
<circle cx="315.56" cy="204.34" r="1.2" fill="#55a8e2"/>
<circle cx="317.37" cy="210.83" r="1.2" fill="#55a8e2"/>
<circle cx="314.09" cy="209.51" r="1.2" fill="#55a8e2"/>
<circle cx="315.80" cy="195.69" r="1.2" fill="#55a8e2"/>
<rect x="320.18" y="227.38" width="5.80" height="23.52" fill="#6e9a84"/>
<line x1="323.50" y1="224.31" x2="323.50" y2="230.45" stroke="#1f5a40" stroke-width="0.7"/>
<line x1="321.48" y1="224.50" x2="324.68" y2="224.50" stroke="#1f5a40" stroke-width="0.7"/>
<circle cx="321.50" cy="224.19" r="1.2" fill="#1f5a40"/>
<circle cx="322.81" cy="222.32" r="1.2" fill="#1f5a40"/>
<circle cx="324.31" cy="228.08" r="1.2" fill="#1f5a40"/>
<circle cx="321.35" cy="226.00" r="1.2" fill="#1f5a40"/>
<circle cx="323.40" cy="227.31" r="1.2" fill="#1f5a40"/>
<circle cx="324.58" cy="227.23" r="1.2" fill="#1f5a40"/>
<circle cx="321.36" cy="225.02" r="1.2" fill="#1f5a40"/>
<circle cx="323.41" cy="227.97" r="1.2" fill="#1f5a40"/>
<circle cx="324.98" cy="226.97" r="1.2" fill="#1f5a40"/>
<circle cx="321.54" cy="220.22" r="1.2" fill="#1f5a40"/>
<rect x="327.51" y="226.36" width="5.80" height="24.54" fill="#8fcd76"/>
<line x1="330.50" y1="222.27" x2="330.50" y2="230.45" stroke="#2ea22e" stroke-width="0.7"/>
<line x1="328.81" y1="222.50" x2="332.01" y2="222.50" stroke="#2ea22e" stroke-width="0.7"/>
<circle cx="328.62" cy="226.81" r="1.2" fill="#2ea22e"/>
<circle cx="330.16" cy="217.33" r="1.2" fill="#2ea22e"/>
<circle cx="331.58" cy="222.29" r="1.2" fill="#2ea22e"/>
<circle cx="328.78" cy="218.66" r="1.2" fill="#2ea22e"/>
<circle cx="330.08" cy="217.32" r="1.2" fill="#2ea22e"/>
<circle cx="331.70" cy="231.28" r="1.2" fill="#2ea22e"/>
<circle cx="328.72" cy="225.14" r="1.2" fill="#2ea22e"/>
<circle cx="330.47" cy="217.30" r="1.2" fill="#2ea22e"/>
<circle cx="332.22" cy="219.41" r="1.2" fill="#2ea22e"/>
<circle cx="329.11" cy="214.09" r="1.2" fill="#2ea22e"/>
<circle cx="330.34" cy="218.18" r="1.2" fill="#2ea22e"/>
<line x1="275.90" y1="253.90" x2="333.61" y2="253.90" stroke="#555" stroke-width="1.6"/>
<line x1="211.50" y1="166.80" x2="211.50" y2="251.30" stroke="#222" stroke-width="1.15"/>
<line x1="208.80" y1="250.50" x2="211.80" y2="250.50" stroke="#222" stroke-width="1.15"/>
<text x="205.40" y="253.60" font-size="7.9" text-anchor="end" fill="#333">0</text>
<line x1="208.80" y1="230.50" x2="211.80" y2="230.50" stroke="#222" stroke-width="1.15"/>
<text x="205.40" y="233.15" font-size="7.9" text-anchor="end" fill="#333">10</text>
<line x1="208.80" y1="210.50" x2="211.80" y2="210.50" stroke="#222" stroke-width="1.15"/>
<text x="205.40" y="212.70" font-size="7.9" text-anchor="end" fill="#333">20</text>
<line x1="208.80" y1="189.50" x2="211.80" y2="189.50" stroke="#222" stroke-width="1.15"/>
<text x="205.40" y="192.25" font-size="7.9" text-anchor="end" fill="#333">30</text>
<line x1="208.80" y1="169.50" x2="211.80" y2="169.50" stroke="#222" stroke-width="1.15"/>
<text x="205.40" y="171.80" font-size="7.9" text-anchor="end" fill="#333">40</text>
<line x1="208.80" y1="250.50" x2="334.81" y2="250.50" stroke="#222" stroke-width="0.9"/>
<path d="M276.70 189.90V186.40H286.40V189.90" fill="none" stroke="#444" stroke-width="0.8"/>
<text x="281.55" y="186.00" font-size="7.5" text-anchor="middle" fill="#222">***</text>
<text x="242.20" y="264.00" font-size="8.6" text-anchor="middle" fill="#222" textLength="30.20" lengthAdjust="spacingAndGlyphs">UNSTIM</text>
<text x="305.70" y="264.00" font-size="8.6" text-anchor="middle" fill="#222" textLength="31.50" lengthAdjust="spacingAndGlyphs">αCD3/28</text>
<text x="190.2" y="210.3" font-size="8.8" text-anchor="middle" fill="#222" textLength="25" lengthAdjust="spacingAndGlyphs" transform="rotate(-90 190.2 210.3)">%CD73<tspan font-size="5.8" dy="-3.3">+</tspan></text>
<rect x="378.40" y="244.77" width="5.80" height="6.23" fill="#d6d8df"/>
<line x1="381.50" y1="242.06" x2="381.50" y2="247.48" stroke="#3d475a" stroke-width="0.7"/>
<line x1="379.70" y1="242.50" x2="382.90" y2="242.50" stroke="#3d475a" stroke-width="0.7"/>
<circle cx="379.73" cy="247.72" r="1.2" fill="#3d475a"/>
<circle cx="381.32" cy="247.84" r="1.2" fill="#3d475a"/>
<circle cx="382.70" cy="245.24" r="1.2" fill="#3d475a"/>
<circle cx="379.67" cy="248.24" r="1.2" fill="#3d475a"/>
<circle cx="380.95" cy="246.88" r="1.2" fill="#3d475a"/>
<circle cx="382.62" cy="248.24" r="1.2" fill="#3d475a"/>
<circle cx="380.17" cy="243.39" r="1.2" fill="#3d475a"/>
<circle cx="381.00" cy="242.46" r="1.2" fill="#3d475a"/>
<circle cx="382.80" cy="234.74" r="1.2" fill="#3d475a"/>
<circle cx="379.90" cy="238.81" r="1.2" fill="#3d475a"/>
<rect x="385.73" y="223.90" width="5.80" height="27.10" fill="#ddd2e6"/>
<line x1="388.50" y1="218.48" x2="388.50" y2="229.32" stroke="#3a1758" stroke-width="0.7"/>
<line x1="387.03" y1="218.50" x2="390.23" y2="218.50" stroke="#3a1758" stroke-width="0.7"/>
<circle cx="387.42" cy="215.29" r="1.2" fill="#3a1758"/>
<circle cx="388.40" cy="231.39" r="1.2" fill="#3a1758"/>
<circle cx="389.95" cy="219.21" r="1.2" fill="#3a1758"/>
<circle cx="386.93" cy="220.43" r="1.2" fill="#3a1758"/>
<circle cx="388.55" cy="231.64" r="1.2" fill="#3a1758"/>
<circle cx="390.09" cy="215.60" r="1.2" fill="#3a1758"/>
<circle cx="387.49" cy="213.76" r="1.2" fill="#3a1758"/>
<circle cx="388.91" cy="229.98" r="1.2" fill="#3a1758"/>
<circle cx="390.43" cy="209.00" r="1.2" fill="#3a1758"/>
<circle cx="386.75" cy="215.77" r="1.2" fill="#3a1758"/>
<rect x="393.06" y="233.38" width="5.80" height="17.62" fill="#fbe8cc"/>
<line x1="395.50" y1="231.49" x2="395.50" y2="235.28" stroke="#e49a38" stroke-width="0.7"/>
<line x1="394.36" y1="231.50" x2="397.56" y2="231.50" stroke="#e49a38" stroke-width="0.7"/>
<circle cx="394.09" cy="230.93" r="1.2" fill="#e49a38"/>
<circle cx="396.13" cy="233.94" r="1.2" fill="#e49a38"/>
<circle cx="397.78" cy="233.45" r="1.2" fill="#e49a38"/>
<rect x="400.39" y="225.25" width="5.80" height="25.75" fill="#f4d2cc"/>
<line x1="403.50" y1="219.83" x2="403.50" y2="230.68" stroke="#c8102e" stroke-width="0.7"/>
<line x1="401.69" y1="219.50" x2="404.89" y2="219.50" stroke="#c8102e" stroke-width="0.7"/>
<circle cx="401.77" cy="217.29" r="1.2" fill="#c8102e"/>
<circle cx="403.36" cy="219.85" r="1.2" fill="#c8102e"/>
<circle cx="404.39" cy="230.76" r="1.2" fill="#c8102e"/>
<circle cx="401.70" cy="217.12" r="1.2" fill="#c8102e"/>
<rect x="407.72" y="237.45" width="5.80" height="13.55" fill="#d2dced"/>
<line x1="410.50" y1="232.03" x2="410.50" y2="242.87" stroke="#173e7a" stroke-width="0.7"/>
<line x1="409.02" y1="232.50" x2="412.22" y2="232.50" stroke="#173e7a" stroke-width="0.7"/>
<circle cx="409.46" cy="238.38" r="1.2" fill="#173e7a"/>
<circle cx="410.88" cy="237.24" r="1.2" fill="#173e7a"/>
<circle cx="412.40" cy="239.63" r="1.2" fill="#173e7a"/>
<circle cx="409.50" cy="241.57" r="1.2" fill="#173e7a"/>
<circle cx="410.42" cy="239.91" r="1.2" fill="#173e7a"/>
<circle cx="411.81" cy="234.44" r="1.2" fill="#173e7a"/>
<circle cx="408.84" cy="219.83" r="1.2" fill="#173e7a"/>
<rect x="415.05" y="240.16" width="5.80" height="10.84" fill="#e2eefa"/>
<line x1="417.50" y1="238.81" x2="417.50" y2="241.51" stroke="#55a8e2" stroke-width="0.7"/>
<line x1="416.35" y1="238.50" x2="419.55" y2="238.50" stroke="#55a8e2" stroke-width="0.7"/>
<circle cx="416.47" cy="242.24" r="1.2" fill="#55a8e2"/>
<circle cx="418.10" cy="239.93" r="1.2" fill="#55a8e2"/>
<circle cx="419.80" cy="240.42" r="1.2" fill="#55a8e2"/>
<circle cx="416.63" cy="242.25" r="1.2" fill="#55a8e2"/>
<rect x="422.38" y="232.03" width="5.80" height="18.97" fill="#d4e2d9"/>
<line x1="425.50" y1="225.25" x2="425.50" y2="238.81" stroke="#1f5a40" stroke-width="0.7"/>
<line x1="423.68" y1="225.50" x2="426.88" y2="225.50" stroke="#1f5a40" stroke-width="0.7"/>
<circle cx="423.90" cy="234.77" r="1.2" fill="#1f5a40"/>
<circle cx="425.49" cy="230.01" r="1.2" fill="#1f5a40"/>
<circle cx="426.75" cy="231.83" r="1.2" fill="#1f5a40"/>
<circle cx="423.82" cy="219.83" r="1.2" fill="#1f5a40"/>
<rect x="429.71" y="238.81" width="5.80" height="12.19" fill="#dff1d6"/>
<line x1="432.50" y1="234.74" x2="432.50" y2="242.87" stroke="#2ea22e" stroke-width="0.7"/>
<line x1="431.01" y1="234.50" x2="434.21" y2="234.50" stroke="#2ea22e" stroke-width="0.7"/>
<circle cx="430.74" cy="244.71" r="1.2" fill="#2ea22e"/>
<circle cx="432.84" cy="232.23" r="1.2" fill="#2ea22e"/>
<circle cx="433.90" cy="234.90" r="1.2" fill="#2ea22e"/>
<circle cx="431.45" cy="232.41" r="1.2" fill="#2ea22e"/>
<circle cx="432.73" cy="244.16" r="1.2" fill="#2ea22e"/>
<circle cx="433.95" cy="241.98" r="1.2" fill="#2ea22e"/>
<circle cx="430.81" cy="226.61" r="1.2" fill="#2ea22e"/>
<line x1="378.10" y1="253.90" x2="435.81" y2="253.90" stroke="#555" stroke-width="1.6"/>
<rect x="440.80" y="234.74" width="5.80" height="16.26" fill="#8b8fa3"/>
<line x1="443.50" y1="226.61" x2="443.50" y2="242.87" stroke="#3d475a" stroke-width="0.7"/>
<line x1="442.10" y1="226.50" x2="445.30" y2="226.50" stroke="#3d475a" stroke-width="0.7"/>
<circle cx="442.00" cy="244.72" r="1.2" fill="#3d475a"/>
<circle cx="443.81" cy="228.69" r="1.2" fill="#3d475a"/>
<circle cx="445.36" cy="239.72" r="1.2" fill="#3d475a"/>
<circle cx="441.89" cy="242.77" r="1.2" fill="#3d475a"/>
<circle cx="443.36" cy="206.28" r="1.2" fill="#3d475a"/>
<circle cx="445.22" cy="218.48" r="1.2" fill="#3d475a"/>
<rect x="448.13" y="196.80" width="5.80" height="54.20" fill="#8f66a8"/>
<line x1="451.50" y1="192.73" x2="451.50" y2="200.87" stroke="#3a1758" stroke-width="0.7"/>
<line x1="449.43" y1="192.50" x2="452.63" y2="192.50" stroke="#3a1758" stroke-width="0.7"/>
<circle cx="449.60" cy="198.06" r="1.2" fill="#3a1758"/>
<circle cx="450.94" cy="190.11" r="1.2" fill="#3a1758"/>
<circle cx="452.31" cy="191.61" r="1.2" fill="#3a1758"/>
<circle cx="449.61" cy="200.73" r="1.2" fill="#3a1758"/>
<circle cx="450.64" cy="202.50" r="1.2" fill="#3a1758"/>
<circle cx="452.37" cy="189.98" r="1.2" fill="#3a1758"/>
<circle cx="449.50" cy="181.89" r="1.2" fill="#3a1758"/>
<circle cx="451.40" cy="188.67" r="1.2" fill="#3a1758"/>
<circle cx="452.65" cy="194.09" r="1.2" fill="#3a1758"/>
<rect x="455.46" y="240.16" width="5.80" height="10.84" fill="#f7b865"/>
<line x1="458.50" y1="236.91" x2="458.50" y2="243.41" stroke="#e49a38" stroke-width="0.7"/>
<line x1="456.76" y1="236.50" x2="459.96" y2="236.50" stroke="#e49a38" stroke-width="0.7"/>
<circle cx="457.17" cy="239.59" r="1.2" fill="#e49a38"/>
<circle cx="458.34" cy="238.53" r="1.2" fill="#e49a38"/>
<circle cx="459.65" cy="243.50" r="1.2" fill="#e49a38"/>
<circle cx="456.66" cy="232.03" r="1.2" fill="#e49a38"/>
<rect x="462.79" y="228.51" width="5.80" height="22.49" fill="#e07262"/>
<line x1="465.50" y1="224.44" x2="465.50" y2="232.57" stroke="#c8102e" stroke-width="0.7"/>
<line x1="464.09" y1="224.50" x2="467.29" y2="224.50" stroke="#c8102e" stroke-width="0.7"/>
<circle cx="464.56" cy="233.30" r="1.2" fill="#c8102e"/>
<circle cx="465.85" cy="226.47" r="1.2" fill="#c8102e"/>
<circle cx="467.04" cy="229.32" r="1.2" fill="#c8102e"/>
<circle cx="463.81" cy="233.14" r="1.2" fill="#c8102e"/>
<circle cx="465.69" cy="222.54" r="1.2" fill="#c8102e"/>
<rect x="470.12" y="232.84" width="5.80" height="18.16" fill="#5b7cb0"/>
<line x1="473.50" y1="228.78" x2="473.50" y2="236.91" stroke="#173e7a" stroke-width="0.7"/>
<line x1="471.42" y1="228.50" x2="474.62" y2="228.50" stroke="#173e7a" stroke-width="0.7"/>
<circle cx="471.66" cy="228.09" r="1.2" fill="#173e7a"/>
<circle cx="472.96" cy="231.39" r="1.2" fill="#173e7a"/>
<circle cx="474.33" cy="229.57" r="1.2" fill="#173e7a"/>
<circle cx="471.65" cy="237.36" r="1.2" fill="#173e7a"/>
<circle cx="473.36" cy="215.77" r="1.2" fill="#173e7a"/>
<circle cx="474.30" cy="221.19" r="1.2" fill="#173e7a"/>
<rect x="477.45" y="245.58" width="5.80" height="5.42" fill="#a6cff2"/>
<line x1="480.50" y1="244.50" x2="480.50" y2="246.66" stroke="#55a8e2" stroke-width="0.7"/>
<line x1="478.75" y1="244.50" x2="481.95" y2="244.50" stroke="#55a8e2" stroke-width="0.7"/>
<circle cx="478.48" cy="244.42" r="1.2" fill="#55a8e2"/>
<circle cx="480.22" cy="246.99" r="1.2" fill="#55a8e2"/>
<circle cx="481.79" cy="244.40" r="1.2" fill="#55a8e2"/>
<circle cx="479.00" cy="245.73" r="1.2" fill="#55a8e2"/>
<circle cx="480.11" cy="246.10" r="1.2" fill="#55a8e2"/>
<rect x="484.78" y="244.77" width="5.80" height="6.23" fill="#6e9a84"/>
<line x1="487.50" y1="242.06" x2="487.50" y2="247.48" stroke="#1f5a40" stroke-width="0.7"/>
<line x1="486.08" y1="242.50" x2="489.28" y2="242.50" stroke="#1f5a40" stroke-width="0.7"/>
<circle cx="486.42" cy="244.42" r="1.2" fill="#1f5a40"/>
<circle cx="487.87" cy="241.99" r="1.2" fill="#1f5a40"/>
<circle cx="489.18" cy="246.28" r="1.2" fill="#1f5a40"/>
<circle cx="485.94" cy="247.18" r="1.2" fill="#1f5a40"/>
<circle cx="488.06" cy="237.45" r="1.2" fill="#1f5a40"/>
<rect x="492.11" y="230.13" width="5.80" height="20.87" fill="#8fcd76"/>
<line x1="495.50" y1="222.00" x2="495.50" y2="238.26" stroke="#2ea22e" stroke-width="0.7"/>
<line x1="493.41" y1="222.50" x2="496.61" y2="222.50" stroke="#2ea22e" stroke-width="0.7"/>
<circle cx="493.36" cy="229.11" r="1.2" fill="#2ea22e"/>
<circle cx="495.27" cy="240.06" r="1.2" fill="#2ea22e"/>
<circle cx="496.29" cy="244.95" r="1.2" fill="#2ea22e"/>
<circle cx="493.29" cy="242.98" r="1.2" fill="#2ea22e"/>
<circle cx="495.22" cy="247.19" r="1.2" fill="#2ea22e"/>
<circle cx="496.35" cy="241.45" r="1.2" fill="#2ea22e"/>
<circle cx="493.87" cy="237.27" r="1.2" fill="#2ea22e"/>
<circle cx="495.01" cy="207.64" r="1.2" fill="#2ea22e"/>
<circle cx="496.26" cy="210.35" r="1.2" fill="#2ea22e"/>
<line x1="440.50" y1="253.90" x2="498.21" y2="253.90" stroke="#555" stroke-width="1.6"/>
<line x1="376.50" y1="166.80" x2="376.50" y2="251.40" stroke="#222" stroke-width="1.15"/>
<line x1="373.60" y1="251.50" x2="376.60" y2="251.50" stroke="#222" stroke-width="1.15"/>
<text x="370.20" y="253.70" font-size="7.9" text-anchor="end" fill="#333">0</text>
<line x1="373.60" y1="223.50" x2="376.60" y2="223.50" stroke="#222" stroke-width="1.15"/>
<text x="370.20" y="226.60" font-size="7.9" text-anchor="end" fill="#333">10</text>
<line x1="373.60" y1="196.50" x2="376.60" y2="196.50" stroke="#222" stroke-width="1.15"/>
<text x="370.20" y="199.50" font-size="7.9" text-anchor="end" fill="#333">20</text>
<line x1="373.60" y1="169.50" x2="376.60" y2="169.50" stroke="#222" stroke-width="1.15"/>
<text x="370.20" y="172.40" font-size="7.9" text-anchor="end" fill="#333">30</text>
<line x1="373.60" y1="251.50" x2="499.41" y2="251.50" stroke="#222" stroke-width="0.9"/>
<text x="406.60" y="264.00" font-size="8.6" text-anchor="middle" fill="#222" textLength="30.20" lengthAdjust="spacingAndGlyphs">UNSTIM</text>
<text x="470.00" y="264.00" font-size="8.6" text-anchor="middle" fill="#222" textLength="31.50" lengthAdjust="spacingAndGlyphs">αCD3/28</text>
<text x="352.6" y="210.8" font-size="8.8" text-anchor="middle" fill="#222" textLength="32.5" lengthAdjust="spacingAndGlyphs" transform="rotate(-90 352.6 210.8)">% A<tspan font-size="6" dy="1.8">2A/B</tspan><tspan dy="-1.8">R</tspan><tspan font-size="5.8" dy="-3.3">+</tspan></text>
<rect x="56.30" y="360.50" width="7.60" height="16.10" fill="#d6d8df"/>
<line x1="60.50" y1="355.60" x2="60.50" y2="365.40" stroke="#3d475a" stroke-width="0.7"/>
<line x1="58.30" y1="355.50" x2="61.90" y2="355.50" stroke="#3d475a" stroke-width="0.7"/>
<line x1="58.30" y1="365.50" x2="61.90" y2="365.50" stroke="#3d475a" stroke-width="0.7"/>
<circle cx="56.90" cy="355.60" r="1.3" fill="#3d475a"/>
<circle cx="63.30" cy="355.60" r="1.3" fill="#3d475a"/>
<circle cx="60.10" cy="368.20" r="1.3" fill="#3d475a"/>
<rect x="71.50" y="336.40" width="7.60" height="40.20" fill="#ddd2e6"/>
<line x1="75.50" y1="329.30" x2="75.50" y2="343.50" stroke="#3a1758" stroke-width="0.7"/>
<line x1="73.50" y1="329.50" x2="77.10" y2="329.50" stroke="#3a1758" stroke-width="0.7"/>
<line x1="73.50" y1="343.50" x2="77.10" y2="343.50" stroke="#3a1758" stroke-width="0.7"/>
<circle cx="75.30" cy="324.20" r="1.3" fill="#3a1758"/>
<circle cx="75.30" cy="339.40" r="1.3" fill="#3a1758"/>
<circle cx="75.30" cy="344.70" r="1.3" fill="#3a1758"/>
<rect x="82.40" y="329.00" width="7.60" height="47.60" fill="#fbe8cc"/>
<line x1="86.50" y1="319.30" x2="86.50" y2="338.70" stroke="#e49a38" stroke-width="0.7"/>
<line x1="84.40" y1="319.50" x2="88.00" y2="319.50" stroke="#e49a38" stroke-width="0.7"/>
<line x1="84.40" y1="338.50" x2="88.00" y2="338.50" stroke="#e49a38" stroke-width="0.7"/>
<circle cx="86.20" cy="310.50" r="1.3" fill="#e49a38"/>
<circle cx="86.20" cy="335.40" r="1.3" fill="#e49a38"/>
<circle cx="86.20" cy="341.10" r="1.3" fill="#e49a38"/>
<rect x="92.30" y="340.10" width="7.60" height="36.50" fill="#f4d2cc"/>
<line x1="96.50" y1="330.20" x2="96.50" y2="350.00" stroke="#c8102e" stroke-width="0.7"/>
<line x1="94.30" y1="330.50" x2="97.90" y2="330.50" stroke="#c8102e" stroke-width="0.7"/>
<line x1="94.30" y1="350.50" x2="97.90" y2="350.50" stroke="#c8102e" stroke-width="0.7"/>
<circle cx="96.10" cy="323.20" r="1.3" fill="#c8102e"/>
<circle cx="96.10" cy="342.50" r="1.3" fill="#c8102e"/>
<circle cx="96.10" cy="354.10" r="1.3" fill="#c8102e"/>
<rect x="108.40" y="363.50" width="7.60" height="13.10" fill="#d2dced"/>
<line x1="112.50" y1="359.50" x2="112.50" y2="367.50" stroke="#173e7a" stroke-width="0.7"/>
<line x1="110.40" y1="359.50" x2="114.00" y2="359.50" stroke="#173e7a" stroke-width="0.7"/>
<line x1="110.40" y1="367.50" x2="114.00" y2="367.50" stroke="#173e7a" stroke-width="0.7"/>
<circle cx="112.20" cy="357.50" r="1.3" fill="#173e7a"/>
<circle cx="112.20" cy="362.90" r="1.3" fill="#173e7a"/>
<circle cx="112.20" cy="367.80" r="1.3" fill="#173e7a"/>
<rect x="118.80" y="356.00" width="7.60" height="20.60" fill="#e2eefa"/>
<line x1="122.50" y1="350.50" x2="122.50" y2="361.50" stroke="#55a8e2" stroke-width="0.7"/>
<line x1="120.80" y1="350.50" x2="124.40" y2="350.50" stroke="#55a8e2" stroke-width="0.7"/>
<line x1="120.80" y1="361.50" x2="124.40" y2="361.50" stroke="#55a8e2" stroke-width="0.7"/>
<circle cx="122.60" cy="346.20" r="1.3" fill="#55a8e2"/>
<circle cx="122.60" cy="358.30" r="1.3" fill="#55a8e2"/>
<circle cx="122.60" cy="361.20" r="1.3" fill="#55a8e2"/>
<rect x="129.20" y="357.20" width="7.60" height="19.40" fill="#d4e2d9"/>
<line x1="133.50" y1="351.50" x2="133.50" y2="362.90" stroke="#1f5a40" stroke-width="0.7"/>
<line x1="131.20" y1="351.50" x2="134.80" y2="351.50" stroke="#1f5a40" stroke-width="0.7"/>
<line x1="131.20" y1="362.50" x2="134.80" y2="362.50" stroke="#1f5a40" stroke-width="0.7"/>
<circle cx="133.00" cy="347.90" r="1.3" fill="#1f5a40"/>
<circle cx="133.00" cy="358.30" r="1.3" fill="#1f5a40"/>
<circle cx="133.00" cy="365.20" r="1.3" fill="#1f5a40"/>
<rect x="144.50" y="364.00" width="7.60" height="12.60" fill="#dff1d6"/>
<line x1="148.50" y1="361.00" x2="148.50" y2="367.00" stroke="#2ea22e" stroke-width="0.7"/>
<line x1="146.50" y1="361.50" x2="150.10" y2="361.50" stroke="#2ea22e" stroke-width="0.7"/>
<line x1="146.50" y1="367.50" x2="150.10" y2="367.50" stroke="#2ea22e" stroke-width="0.7"/>
<circle cx="148.30" cy="360.60" r="1.3" fill="#2ea22e"/>
<circle cx="148.30" cy="364.00" r="1.3" fill="#2ea22e"/>
<circle cx="148.30" cy="367.20" r="1.3" fill="#2ea22e"/>
<line x1="50.50" y1="296.80" x2="50.50" y2="377.00" stroke="#222" stroke-width="1.15"/>
<line x1="47.80" y1="376.50" x2="50.80" y2="376.50" stroke="#222" stroke-width="1.15"/>
<text x="44.80" y="379.30" font-size="7.9" text-anchor="end" fill="#333">0</text>
<line x1="47.80" y1="361.50" x2="50.80" y2="361.50" stroke="#222" stroke-width="1.15"/>
<text x="44.80" y="363.70" font-size="7.9" text-anchor="end" fill="#333">2</text>
<line x1="47.80" y1="345.50" x2="50.80" y2="345.50" stroke="#222" stroke-width="1.15"/>
<text x="44.80" y="348.10" font-size="7.9" text-anchor="end" fill="#333">4</text>
<line x1="47.80" y1="329.50" x2="50.80" y2="329.50" stroke="#222" stroke-width="1.15"/>
<text x="44.80" y="332.50" font-size="7.9" text-anchor="end" fill="#333">6</text>
<line x1="47.80" y1="314.50" x2="50.80" y2="314.50" stroke="#222" stroke-width="1.15"/>
<text x="44.80" y="316.90" font-size="7.9" text-anchor="end" fill="#333">8</text>
<line x1="47.80" y1="298.50" x2="50.80" y2="298.50" stroke="#222" stroke-width="1.15"/>
<text x="44.80" y="301.30" font-size="7.9" text-anchor="end" fill="#333">10</text>
<line x1="47.80" y1="376.50" x2="157.10" y2="376.50" stroke="#222" stroke-width="1.0"/>
<text x="19.4" y="336.6" font-size="8.3" text-anchor="middle" fill="#222" textLength="52" lengthAdjust="spacingAndGlyphs" transform="rotate(-90 19.4 336.6)">%FOXP3<tspan font-size="5.6" dy="-2.8">+</tspan><tspan dy="2.8"> CD25</tspan><tspan font-size="5.6" dy="-2.8">+</tspan></text>
<text x="28.0" y="336.6" font-size="8.3" text-anchor="middle" fill="#222" textLength="38" lengthAdjust="spacingAndGlyphs" transform="rotate(-90 28.0 336.6)">(within CD4)</text>
<rect x="206.10" y="366.80" width="7.50" height="9.70" fill="#d6d8df"/>
<line x1="209.50" y1="363.50" x2="209.50" y2="370.10" stroke="#3d475a" stroke-width="0.7"/>
<line x1="208.05" y1="363.50" x2="211.65" y2="363.50" stroke="#3d475a" stroke-width="0.7"/>
<line x1="208.05" y1="370.50" x2="211.65" y2="370.50" stroke="#3d475a" stroke-width="0.7"/>
<circle cx="206.65" cy="363.50" r="1.3" fill="#3d475a"/>
<circle cx="213.05" cy="363.50" r="1.3" fill="#3d475a"/>
<circle cx="209.85" cy="370.00" r="1.3" fill="#3d475a"/>
<rect x="222.20" y="337.00" width="7.60" height="39.50" fill="#ddd2e6"/>
<line x1="226.50" y1="329.40" x2="226.50" y2="344.60" stroke="#3a1758" stroke-width="0.7"/>
<line x1="224.20" y1="329.50" x2="227.80" y2="329.50" stroke="#3a1758" stroke-width="0.7"/>
<line x1="224.20" y1="344.50" x2="227.80" y2="344.50" stroke="#3a1758" stroke-width="0.7"/>
<circle cx="226.00" cy="325.40" r="1.3" fill="#3a1758"/>
<circle cx="222.80" cy="338.30" r="1.3" fill="#3a1758"/>
<circle cx="229.20" cy="336.40" r="1.3" fill="#3a1758"/>
<rect x="232.20" y="326.50" width="7.60" height="50.00" fill="#fbe8cc"/>
<line x1="236.50" y1="319.20" x2="236.50" y2="333.80" stroke="#e49a38" stroke-width="0.7"/>
<line x1="234.20" y1="319.50" x2="237.80" y2="319.50" stroke="#e49a38" stroke-width="0.7"/>
<line x1="234.20" y1="333.50" x2="237.80" y2="333.50" stroke="#e49a38" stroke-width="0.7"/>
<circle cx="236.00" cy="311.80" r="1.3" fill="#e49a38"/>
<circle cx="236.00" cy="331.50" r="1.3" fill="#e49a38"/>
<circle cx="236.00" cy="334.00" r="1.3" fill="#e49a38"/>
<rect x="242.80" y="344.20" width="7.50" height="32.30" fill="#f4d2cc"/>
<line x1="246.50" y1="337.30" x2="246.50" y2="351.10" stroke="#c8102e" stroke-width="0.7"/>
<line x1="244.75" y1="337.50" x2="248.35" y2="337.50" stroke="#c8102e" stroke-width="0.7"/>
<line x1="244.75" y1="351.50" x2="248.35" y2="351.50" stroke="#c8102e" stroke-width="0.7"/>
<circle cx="246.55" cy="331.10" r="1.3" fill="#c8102e"/>
<circle cx="246.55" cy="348.10" r="1.3" fill="#c8102e"/>
<circle cx="246.55" cy="354.00" r="1.3" fill="#c8102e"/>
<rect x="258.30" y="370.00" width="7.50" height="6.50" fill="#d2dced"/>
<line x1="262.50" y1="367.50" x2="262.50" y2="372.50" stroke="#173e7a" stroke-width="0.7"/>
<line x1="260.25" y1="367.50" x2="263.85" y2="367.50" stroke="#173e7a" stroke-width="0.7"/>
<line x1="260.25" y1="372.50" x2="263.85" y2="372.50" stroke="#173e7a" stroke-width="0.7"/>
<circle cx="259.25" cy="369.50" r="1.3" fill="#173e7a"/>
<circle cx="264.85" cy="369.50" r="1.3" fill="#173e7a"/>
<circle cx="262.05" cy="371.50" r="1.3" fill="#173e7a"/>
<rect x="269.40" y="364.60" width="7.50" height="11.90" fill="#e2eefa"/>
<line x1="273.50" y1="360.50" x2="273.50" y2="368.70" stroke="#55a8e2" stroke-width="0.7"/>
<line x1="271.35" y1="360.50" x2="274.95" y2="360.50" stroke="#55a8e2" stroke-width="0.7"/>
<line x1="271.35" y1="368.50" x2="274.95" y2="368.50" stroke="#55a8e2" stroke-width="0.7"/>
<circle cx="273.15" cy="358.00" r="1.3" fill="#55a8e2"/>
<circle cx="270.65" cy="365.00" r="1.3" fill="#55a8e2"/>
<circle cx="275.65" cy="365.00" r="1.3" fill="#55a8e2"/>
<rect x="279.60" y="365.80" width="7.50" height="10.70" fill="#d4e2d9"/>
<line x1="283.50" y1="361.00" x2="283.50" y2="370.60" stroke="#1f5a40" stroke-width="0.7"/>
<line x1="281.55" y1="361.50" x2="285.15" y2="361.50" stroke="#1f5a40" stroke-width="0.7"/>
<line x1="281.55" y1="370.50" x2="285.15" y2="370.50" stroke="#1f5a40" stroke-width="0.7"/>
<circle cx="283.35" cy="358.50" r="1.3" fill="#1f5a40"/>
<circle cx="280.85" cy="366.00" r="1.3" fill="#1f5a40"/>
<circle cx="285.85" cy="366.00" r="1.3" fill="#1f5a40"/>
<rect x="294.80" y="369.00" width="7.50" height="7.50" fill="#dff1d6"/>
<line x1="298.50" y1="367.50" x2="298.50" y2="370.50" stroke="#2ea22e" stroke-width="0.7"/>
<line x1="296.75" y1="367.50" x2="300.35" y2="367.50" stroke="#2ea22e" stroke-width="0.7"/>
<line x1="296.75" y1="370.50" x2="300.35" y2="370.50" stroke="#2ea22e" stroke-width="0.7"/>
<circle cx="298.55" cy="366.00" r="1.3" fill="#2ea22e"/>
<circle cx="295.75" cy="370.00" r="1.3" fill="#2ea22e"/>
<circle cx="301.35" cy="370.00" r="1.3" fill="#2ea22e"/>
<line x1="201.50" y1="296.80" x2="201.50" y2="376.90" stroke="#222" stroke-width="1.15"/>
<line x1="198.50" y1="376.50" x2="201.50" y2="376.50" stroke="#222" stroke-width="1.15"/>
<text x="195.50" y="379.20" font-size="7.9" text-anchor="end" fill="#333">0</text>
<line x1="198.50" y1="350.50" x2="201.50" y2="350.50" stroke="#222" stroke-width="1.15"/>
<text x="195.50" y="353.17" font-size="7.9" text-anchor="end" fill="#333">5</text>
<line x1="198.50" y1="324.50" x2="201.50" y2="324.50" stroke="#222" stroke-width="1.15"/>
<text x="195.50" y="327.13" font-size="7.9" text-anchor="end" fill="#333">10</text>
<line x1="198.50" y1="298.50" x2="201.50" y2="298.50" stroke="#222" stroke-width="1.15"/>
<text x="195.50" y="301.10" font-size="7.9" text-anchor="end" fill="#333">15</text>
<line x1="198.50" y1="376.50" x2="307.30" y2="376.50" stroke="#222" stroke-width="1.0"/>
<text x="170.2" y="336.3" font-size="8.3" text-anchor="middle" fill="#222" textLength="47" lengthAdjust="spacingAndGlyphs" transform="rotate(-90 170.2 336.3)">%CD25<tspan font-size="5.6" dy="-2.8">+</tspan><tspan dy="2.8"> CD127</tspan></text>
<text x="179.2" y="336.3" font-size="8.3" text-anchor="middle" fill="#222" textLength="42" lengthAdjust="spacingAndGlyphs" transform="rotate(-90 179.2 336.3)">(within CD4+)</text>
<rect x="360.40" y="341.42" width="10.60" height="26.58" fill="#7b4713"/>
<rect x="360.40" y="301.43" width="10.60" height="39.99" fill="#cbc9d3"/>
<rect x="360.40" y="295.62" width="10.60" height="5.81" fill="#f39b1c"/>
<rect x="360.40" y="290.50" width="10.60" height="5.12" fill="#3aa7dd"/>
<line x1="365.50" y1="340.22" x2="365.50" y2="342.62" stroke="#222" stroke-width="0.7"/>
<line x1="363.20" y1="340.50" x2="368.20" y2="340.50" stroke="#222" stroke-width="0.7"/>
<line x1="363.20" y1="342.50" x2="368.20" y2="342.50" stroke="#222" stroke-width="0.7"/>
<line x1="365.50" y1="300.23" x2="365.50" y2="302.63" stroke="#222" stroke-width="0.7"/>
<line x1="363.20" y1="300.50" x2="368.20" y2="300.50" stroke="#222" stroke-width="0.7"/>
<line x1="363.20" y1="302.50" x2="368.20" y2="302.50" stroke="#222" stroke-width="0.7"/>
<line x1="363.20" y1="289.50" x2="368.20" y2="289.50" stroke="#222" stroke-width="0.7"/>
<rect x="376.70" y="361.41" width="10.60" height="6.59" fill="#4d6a24"/>
<rect x="376.70" y="360.40" width="10.60" height="1.01" fill="#cbc9d3"/>
<rect x="376.70" y="306.23" width="10.60" height="54.17" fill="#12508f"/>
<rect x="376.70" y="296.08" width="10.60" height="10.15" fill="#cc1236"/>
<rect x="376.70" y="293.99" width="10.60" height="2.09" fill="#f39b1c"/>
<rect x="376.70" y="290.50" width="10.60" height="3.49" fill="#3aa7dd"/>
<line x1="382.50" y1="360.21" x2="382.50" y2="362.61" stroke="#222" stroke-width="0.7"/>
<line x1="379.50" y1="360.50" x2="384.50" y2="360.50" stroke="#222" stroke-width="0.7"/>
<line x1="379.50" y1="362.50" x2="384.50" y2="362.50" stroke="#222" stroke-width="0.7"/>
<line x1="382.50" y1="304.80" x2="382.50" y2="307.20" stroke="#222" stroke-width="0.7"/>
<line x1="379.50" y1="304.50" x2="384.50" y2="304.50" stroke="#222" stroke-width="0.7"/>
<line x1="379.50" y1="307.50" x2="384.50" y2="307.50" stroke="#222" stroke-width="0.7"/>
<line x1="382.50" y1="293.95" x2="382.50" y2="296.35" stroke="#222" stroke-width="0.7"/>
<line x1="379.50" y1="293.50" x2="384.50" y2="293.50" stroke="#222" stroke-width="0.7"/>
<line x1="379.50" y1="296.50" x2="384.50" y2="296.50" stroke="#222" stroke-width="0.7"/>
<line x1="379.50" y1="289.50" x2="384.50" y2="289.50" stroke="#222" stroke-width="0.7"/>
<rect x="393.30" y="362.57" width="10.60" height="5.43" fill="#5b1c5e"/>
<rect x="393.30" y="347.23" width="10.60" height="15.34" fill="#cbc9d3"/>
<rect x="393.30" y="319.95" width="10.60" height="27.28" fill="#12508f"/>
<rect x="393.30" y="307.70" width="10.60" height="12.25" fill="#cc1236"/>
<rect x="393.30" y="297.16" width="10.60" height="10.54" fill="#f39b1c"/>
<rect x="393.30" y="290.50" width="10.60" height="6.66" fill="#3aa7dd"/>
<line x1="398.50" y1="361.38" x2="398.50" y2="363.77" stroke="#222" stroke-width="0.7"/>
<line x1="396.10" y1="361.50" x2="401.10" y2="361.50" stroke="#222" stroke-width="0.7"/>
<line x1="396.10" y1="363.50" x2="401.10" y2="363.50" stroke="#222" stroke-width="0.7"/>
<line x1="398.50" y1="357.50" x2="398.50" y2="359.90" stroke="#222" stroke-width="0.7"/>
<line x1="396.10" y1="357.50" x2="401.10" y2="357.50" stroke="#222" stroke-width="0.7"/>
<line x1="396.10" y1="359.50" x2="401.10" y2="359.50" stroke="#222" stroke-width="0.7"/>
<line x1="398.50" y1="345.88" x2="398.50" y2="348.27" stroke="#222" stroke-width="0.7"/>
<line x1="396.10" y1="345.50" x2="401.10" y2="345.50" stroke="#222" stroke-width="0.7"/>
<line x1="396.10" y1="348.50" x2="401.10" y2="348.50" stroke="#222" stroke-width="0.7"/>
<line x1="398.50" y1="320.30" x2="398.50" y2="322.70" stroke="#222" stroke-width="0.7"/>
<line x1="396.10" y1="320.50" x2="401.10" y2="320.50" stroke="#222" stroke-width="0.7"/>
<line x1="396.10" y1="322.50" x2="401.10" y2="322.50" stroke="#222" stroke-width="0.7"/>
<line x1="398.50" y1="306.35" x2="398.50" y2="308.75" stroke="#222" stroke-width="0.7"/>
<line x1="396.10" y1="306.50" x2="401.10" y2="306.50" stroke="#222" stroke-width="0.7"/>
<line x1="396.10" y1="308.50" x2="401.10" y2="308.50" stroke="#222" stroke-width="0.7"/>
<line x1="396.10" y1="289.50" x2="401.10" y2="289.50" stroke="#222" stroke-width="0.7"/>
<line x1="354.50" y1="286.50" x2="354.50" y2="368.40" stroke="#222" stroke-width="1.15"/>
<line x1="351.20" y1="368.50" x2="354.20" y2="368.50" stroke="#222" stroke-width="1.15"/>
<text x="348.40" y="370.70" font-size="7.9" text-anchor="end" fill="#333">0.00</text>
<line x1="351.20" y1="348.50" x2="354.20" y2="348.50" stroke="#222" stroke-width="1.15"/>
<text x="348.40" y="351.32" font-size="7.9" text-anchor="end" fill="#333">0.25</text>
<line x1="351.20" y1="329.50" x2="354.20" y2="329.50" stroke="#222" stroke-width="1.15"/>
<text x="348.40" y="331.95" font-size="7.9" text-anchor="end" fill="#333">0.50</text>
<line x1="351.20" y1="309.50" x2="354.20" y2="309.50" stroke="#222" stroke-width="1.15"/>
<text x="348.40" y="312.57" font-size="7.9" text-anchor="end" fill="#333">0.75</text>
<line x1="351.20" y1="290.50" x2="354.20" y2="290.50" stroke="#222" stroke-width="1.15"/>
<text x="348.40" y="293.20" font-size="7.9" text-anchor="end" fill="#333">1.00</text>
<line x1="351.00" y1="368.50" x2="408.50" y2="368.50" stroke="#222" stroke-width="1.0"/>
<line x1="365.50" y1="368.00" x2="365.50" y2="370.80" stroke="#222" stroke-width="0.8"/>
<line x1="381.50" y1="368.00" x2="381.50" y2="370.80" stroke="#222" stroke-width="0.8"/>
<line x1="398.50" y1="368.00" x2="398.50" y2="370.80" stroke="#222" stroke-width="0.8"/>
<text x="324.80" y="327.40" font-size="6.4" text-anchor="middle" fill="#222" textLength="49.00" lengthAdjust="spacingAndGlyphs" transform="rotate(-90 324.80 327.40)">Fractional abundance</text>
<text x="367.6" y="376.5" font-size="8" text-anchor="end" fill="#222" textLength="32.5" lengthAdjust="spacingAndGlyphs" transform="rotate(-45 367.6 376.5)">UNSTIM</text>
<text x="385.6" y="377.0" font-size="8" text-anchor="end" fill="#222" textLength="19.5" lengthAdjust="spacingAndGlyphs" transform="rotate(-45 385.6 377.0)">3/28</text>
<text x="401.8" y="377.3" font-size="8" text-anchor="end" fill="#222" textLength="52.5" lengthAdjust="spacingAndGlyphs" transform="rotate(-45 401.8 377.3)">3/28 + PGA-1</text>
<rect x="419.50" y="286.30" width="5.20" height="5.20" fill="#3aa7dd"/>
<text x="426.90" y="291.70" font-size="7.9" text-anchor="start" fill="#222">Other cell types</text>
<rect x="419.50" y="296.22" width="5.20" height="5.20" fill="#f39b1c"/>
<text x="426.90" y="301.62" font-size="7.9" text-anchor="start" fill="#222">NK cells (resting)</text>
<rect x="419.50" y="306.14" width="5.20" height="5.20" fill="#cc1236"/>
<text x="426.90" y="311.54" font-size="7.9" text-anchor="start" fill="#222">T cells regulatory (Treg)</text>
<rect x="419.50" y="316.06" width="5.20" height="5.20" fill="#7b4713"/>
<text x="426.90" y="321.46" font-size="7.9" text-anchor="start" fill="#222">CD4 T<tspan font-size="5.5" dy="1.8">N</tspan><tspan dy="-1.8"> cells</tspan></text>
<rect x="419.50" y="325.98" width="5.20" height="5.20" fill="#cbc9d3"/>
<text x="426.90" y="331.38" font-size="7.9" text-anchor="start" fill="#222">CD4 T<tspan font-size="5.5" dy="1.8">M</tspan><tspan dy="-1.8"> cells (resting)</tspan></text>
<rect x="419.50" y="335.90" width="5.20" height="5.20" fill="#12508f"/>
<text x="426.90" y="341.30" font-size="7.9" text-anchor="start" fill="#222">CD4 T<tspan font-size="5.5" dy="1.8">M</tspan><tspan dy="-1.8"> cells (activated)</tspan></text>
<rect x="419.50" y="345.82" width="5.20" height="5.20" fill="#3ea046"/>
<text x="426.90" y="351.22" font-size="7.9" text-anchor="start" fill="#222">CD8 T cells</text>
<rect x="419.50" y="355.74" width="5.20" height="5.20" fill="#5b1c5e"/>
<text x="426.90" y="361.14" font-size="7.9" text-anchor="start" fill="#222">B cells</text>
<rect x="55.30" y="482.27" width="6.90" height="14.43" fill="#9094aa"/>
<line x1="58.50" y1="475.39" x2="58.50" y2="482.27" stroke="#a9adc2" stroke-width="0.8"/>
<line x1="56.45" y1="475.50" x2="61.05" y2="475.50" stroke="#a9adc2" stroke-width="0.8"/>
<rect x="65.00" y="454.08" width="6.80" height="42.62" fill="#8f64a4"/>
<line x1="68.50" y1="443.98" x2="68.50" y2="454.08" stroke="#9a72b0" stroke-width="0.8"/>
<line x1="66.10" y1="443.50" x2="70.70" y2="443.50" stroke="#9a72b0" stroke-width="0.8"/>
<line x1="53.50" y1="427.20" x2="53.50" y2="497.10" stroke="#222" stroke-width="1.15"/>
<line x1="50.20" y1="496.50" x2="53.20" y2="496.50" stroke="#222" stroke-width="1.15"/>
<text x="46.80" y="499.40" font-size="7.9" text-anchor="end" fill="#333">0</text>
<line x1="50.20" y1="474.50" x2="53.20" y2="474.50" stroke="#222" stroke-width="1.15"/>
<text x="46.80" y="477.20" font-size="7.9" text-anchor="end" fill="#333">2</text>
<line x1="50.20" y1="452.50" x2="53.20" y2="452.50" stroke="#222" stroke-width="1.15"/>
<text x="46.80" y="455.00" font-size="7.9" text-anchor="end" fill="#333">4</text>
<line x1="50.20" y1="430.50" x2="53.20" y2="430.50" stroke="#222" stroke-width="1.15"/>
<text x="46.80" y="432.80" font-size="7.9" text-anchor="end" fill="#333">6</text>
<line x1="50.00" y1="496.50" x2="84.80" y2="496.50" stroke="#222" stroke-width="1.1"/>
<line x1="58.50" y1="496.70" x2="58.50" y2="499.30" stroke="#222" stroke-width="0.8"/>
<line x1="68.50" y1="496.70" x2="68.50" y2="499.30" stroke="#222" stroke-width="0.8"/>
<line x1="77.50" y1="496.70" x2="77.50" y2="499.30" stroke="#222" stroke-width="0.8"/>
<text x="73.00" y="493.40" font-size="8.0" text-anchor="start" fill="#222" textLength="11.60" lengthAdjust="spacingAndGlyphs">ND</text>
<text x="61.8" y="503.2" font-size="8" text-anchor="end" fill="#222" textLength="23.6" lengthAdjust="spacingAndGlyphs" transform="rotate(-90 61.8 503.2)">PBMC</text>
<text x="71.5" y="503.2" font-size="8" text-anchor="end" fill="#222" textLength="59.0" lengthAdjust="spacingAndGlyphs" transform="rotate(-90 71.5 503.2)">PBMC + PGA-1</text>
<text x="80.4" y="503.2" font-size="8" text-anchor="end" fill="#222" textLength="23.6" lengthAdjust="spacingAndGlyphs" transform="rotate(-90 80.4 503.2)">PGA-1</text>
<text x="36.9" y="462.3" font-size="8.3" text-anchor="middle" fill="#222" textLength="49.5" lengthAdjust="spacingAndGlyphs" transform="rotate(-90 36.9 462.3)">Adenosine (μM)</text>
<rect x="179.40" y="428.50" width="12.50" height="5.90" fill="#8b8fa3" stroke="#000" stroke-opacity="0.3" stroke-width="0.7"/>
<text x="195.00" y="434.20" font-size="8.3" text-anchor="start" fill="#222" textLength="24.10" lengthAdjust="spacingAndGlyphs">PBMC</text>
<rect x="224.00" y="428.50" width="11.50" height="5.90" fill="#8e60a3" stroke="#000" stroke-opacity="0.3" stroke-width="0.7"/>
<text x="239.10" y="434.20" font-size="8.3" text-anchor="start" fill="#222" textLength="57.60" lengthAdjust="spacingAndGlyphs">PBMC + PGA-1</text>
<rect x="304.50" y="428.50" width="12.40" height="5.90" fill="#f28dbd" stroke="#000" stroke-opacity="0.3" stroke-width="0.7"/>
<text x="320.40" y="434.20" font-size="8.3" text-anchor="start" fill="#222" textLength="95.60" lengthAdjust="spacingAndGlyphs">PBMC + PGA-1 + AB928</text>
<rect x="150.90" y="463.80" width="8.00" height="68.00" fill="#8b8fa3"/>
<line x1="154.90" y1="451.70" x2="154.90" y2="463.80" stroke="#555" stroke-width="0.7" stroke-dasharray="1 1"/>
<line x1="152.90" y1="451.50" x2="156.90" y2="451.50" stroke="#555" stroke-width="0.7"/>
<circle cx="152.50" cy="451.70" r="1.2" fill="#3d475a"/>
<circle cx="157.50" cy="453.00" r="1.2" fill="#3d475a"/>
<circle cx="154.90" cy="461.70" r="1.2" fill="#3d475a"/>
<circle cx="154.90" cy="469.70" r="1.2" fill="#3d475a"/>
<circle cx="154.90" cy="478.40" r="1.2" fill="#3d475a"/>
<rect x="161.00" y="521.50" width="8.60" height="10.30" fill="#8a63a0"/>
<circle cx="165.30" cy="517.20" r="1.2" fill="#3a1a50"/>
<circle cx="162.80" cy="521.00" r="1.2" fill="#3a1a50"/>
<circle cx="167.80" cy="521.00" r="1.2" fill="#3a1a50"/>
<circle cx="165.30" cy="525.00" r="1.2" fill="#3a1a50"/>
<rect x="172.00" y="510.50" width="8.40" height="21.30" fill="#f38fbf"/>
<line x1="176.50" y1="505.50" x2="176.50" y2="510.50" stroke="#e2509a" stroke-width="0.8"/>
<line x1="174.20" y1="505.50" x2="178.20" y2="505.50" stroke="#e2509a" stroke-width="0.8"/>
<circle cx="176.20" cy="508.80" r="1.25" fill="none" stroke="#e2509a" stroke-width="0.75"/>
<circle cx="173.60" cy="518.20" r="1.25" fill="none" stroke="#e2509a" stroke-width="0.75"/>
<circle cx="178.80" cy="518.20" r="1.25" fill="none" stroke="#e2509a" stroke-width="0.75"/>
<circle cx="176.20" cy="514.40" r="1.25" fill="none" stroke="#e2509a" stroke-width="0.75"/>
<rect x="183.30" y="508.80" width="8.30" height="23.00" fill="#f38fbf"/>
<line x1="187.50" y1="500.00" x2="187.50" y2="508.80" stroke="#e2509a" stroke-width="0.8"/>
<line x1="185.45" y1="500.50" x2="189.45" y2="500.50" stroke="#e2509a" stroke-width="0.8"/>
<circle cx="187.45" cy="496.50" r="1.25" fill="none" stroke="#e2509a" stroke-width="0.75"/>
<circle cx="184.85" cy="506.50" r="1.25" fill="none" stroke="#e2509a" stroke-width="0.75"/>
<circle cx="190.05" cy="506.50" r="1.25" fill="none" stroke="#e2509a" stroke-width="0.75"/>
<circle cx="187.45" cy="513.50" r="1.25" fill="none" stroke="#e2509a" stroke-width="0.75"/>
<circle cx="187.45" cy="518.20" r="1.25" fill="none" stroke="#e2509a" stroke-width="0.75"/>
<rect x="193.80" y="501.00" width="8.40" height="30.80" fill="#f38fbf"/>
<line x1="198.50" y1="487.10" x2="198.50" y2="501.00" stroke="#e2509a" stroke-width="0.8"/>
<line x1="196.00" y1="487.50" x2="200.00" y2="487.50" stroke="#e2509a" stroke-width="0.8"/>
<circle cx="198.00" cy="480.10" r="1.25" fill="none" stroke="#e2509a" stroke-width="0.75"/>
<circle cx="198.00" cy="493.10" r="1.25" fill="none" stroke="#e2509a" stroke-width="0.75"/>
<circle cx="195.00" cy="507.70" r="1.25" fill="none" stroke="#e2509a" stroke-width="0.75"/>
<circle cx="201.00" cy="507.70" r="1.25" fill="none" stroke="#e2509a" stroke-width="0.75"/>
<circle cx="198.00" cy="511.80" r="1.25" fill="none" stroke="#e2509a" stroke-width="0.75"/>
<line x1="148.50" y1="446.60" x2="148.50" y2="532.20" stroke="#222" stroke-width="1.15"/>
<line x1="145.30" y1="531.50" x2="148.30" y2="531.50" stroke="#222" stroke-width="1.15"/>
<text x="142.30" y="534.50" font-size="7.9" text-anchor="end" fill="#333">0</text>
<line x1="145.30" y1="490.50" x2="148.30" y2="490.50" stroke="#222" stroke-width="1.15"/>
<text x="142.30" y="493.40" font-size="7.9" text-anchor="end" fill="#333">50</text>
<line x1="145.30" y1="449.50" x2="148.30" y2="449.50" stroke="#222" stroke-width="1.15"/>
<text x="142.30" y="452.30" font-size="7.9" text-anchor="end" fill="#333">100</text>
<line x1="145.30" y1="531.50" x2="203.80" y2="531.50" stroke="#222" stroke-width="1.0"/>
<line x1="154.50" y1="531.80" x2="154.50" y2="534.10" stroke="#222" stroke-width="0.7"/>
<line x1="165.50" y1="531.80" x2="165.50" y2="534.10" stroke="#222" stroke-width="0.7"/>
<line x1="176.50" y1="531.80" x2="176.50" y2="534.10" stroke="#222" stroke-width="0.7"/>
<line x1="187.50" y1="531.80" x2="187.50" y2="534.10" stroke="#222" stroke-width="0.7"/>
<line x1="198.50" y1="531.80" x2="198.50" y2="534.10" stroke="#222" stroke-width="0.7"/>
<path d="M154.20 446.30V441.70H165.90V446.30" fill="none" stroke="#444" stroke-width="0.8"/>
<text x="160.05" y="441.20" font-size="7.5" text-anchor="middle" fill="#222">***</text>
<path d="M164.70 507.20V503.20H175.90V507.20" fill="none" stroke="#444" stroke-width="0.8"/>
<text x="170.30" y="502.60" font-size="7.5" text-anchor="middle" fill="#222">*</text>
<path d="M164.70 490.50V487.10H186.80V490.50" fill="none" stroke="#444" stroke-width="0.8"/>
<text x="175.75" y="486.50" font-size="7.5" text-anchor="middle" fill="#222">*</text>
<path d="M164.70 475.90V472.10H197.60V475.90" fill="none" stroke="#444" stroke-width="0.8"/>
<text x="181.15" y="471.50" font-size="7.5" text-anchor="middle" fill="#222">*</text>
<text x="96.20" y="546.30" font-size="8.2" text-anchor="start" fill="#222" textLength="46.10" lengthAdjust="spacingAndGlyphs">AB928 (μM):</text>
<text x="159.60" y="541.6" font-size="8.1" text-anchor="end" fill="#222" transform="rotate(-45 159.60 541.6)">0</text>
<text x="169.90" y="541.6" font-size="8.1" text-anchor="end" fill="#222" transform="rotate(-45 169.90 541.6)">0</text>
<text x="180.80" y="541.6" font-size="8.1" text-anchor="end" fill="#222" transform="rotate(-45 180.80 541.6)">10</text>
<text x="192.00" y="541.6" font-size="8.1" text-anchor="end" fill="#222" transform="rotate(-45 192.00 541.6)">20</text>
<text x="202.60" y="541.6" font-size="8.1" text-anchor="end" fill="#222" transform="rotate(-45 202.60 541.6)">30</text>
<text x="120.7" y="489.4" font-size="8.6" text-anchor="middle" fill="#222" textLength="18.2" lengthAdjust="spacingAndGlyphs" transform="rotate(-90 120.7 489.4)">%pS6</text>
<rect x="365.90" y="475.10" width="7.20" height="56.70" fill="#8b8fa3"/>
<line x1="369.50" y1="462.70" x2="369.50" y2="475.10" stroke="#555" stroke-width="0.7" stroke-dasharray="1 1"/>
<line x1="367.50" y1="462.50" x2="371.50" y2="462.50" stroke="#555" stroke-width="0.7"/>
<circle cx="369.50" cy="459.30" r="1.2" fill="#3d475a"/>
<circle cx="369.50" cy="466.70" r="1.2" fill="#3d475a"/>
<circle cx="369.50" cy="476.10" r="1.2" fill="#3d475a"/>
<circle cx="369.50" cy="479.90" r="1.2" fill="#3d475a"/>
<circle cx="369.50" cy="491.00" r="1.2" fill="#3d475a"/>
<rect x="375.80" y="500.70" width="7.20" height="31.10" fill="#8a63a0"/>
<line x1="379.50" y1="496.50" x2="379.50" y2="500.70" stroke="#3a1a50" stroke-width="0.7"/>
<line x1="377.40" y1="496.50" x2="381.40" y2="496.50" stroke="#3a1a50" stroke-width="0.7"/>
<circle cx="376.40" cy="495.50" r="1.2" fill="#3a1a50"/>
<circle cx="379.40" cy="497.50" r="1.2" fill="#3a1a50"/>
<circle cx="382.40" cy="495.50" r="1.2" fill="#3a1a50"/>
<circle cx="377.90" cy="503.70" r="1.2" fill="#3a1a50"/>
<circle cx="381.40" cy="503.70" r="1.2" fill="#3a1a50"/>
<rect x="385.50" y="493.30" width="7.20" height="38.50" fill="#f38fbf"/>
<line x1="389.50" y1="489.50" x2="389.50" y2="493.30" stroke="#e2509a" stroke-width="0.8"/>
<line x1="387.10" y1="489.50" x2="391.10" y2="489.50" stroke="#e2509a" stroke-width="0.8"/>
<circle cx="386.60" cy="490.30" r="1.25" fill="none" stroke="#e2509a" stroke-width="0.75"/>
<circle cx="391.60" cy="490.30" r="1.25" fill="none" stroke="#e2509a" stroke-width="0.75"/>
<circle cx="389.10" cy="498.50" r="1.25" fill="none" stroke="#e2509a" stroke-width="0.75"/>
<circle cx="389.10" cy="502.20" r="1.25" fill="none" stroke="#e2509a" stroke-width="0.75"/>
<rect x="395.20" y="493.30" width="7.20" height="38.50" fill="#f38fbf"/>
<line x1="398.50" y1="488.50" x2="398.50" y2="493.30" stroke="#e2509a" stroke-width="0.8"/>
<line x1="396.80" y1="488.50" x2="400.80" y2="488.50" stroke="#e2509a" stroke-width="0.8"/>
<circle cx="398.80" cy="480.60" r="1.25" fill="none" stroke="#e2509a" stroke-width="0.75"/>
<circle cx="398.80" cy="485.10" r="1.25" fill="none" stroke="#e2509a" stroke-width="0.75"/>
<circle cx="396.20" cy="494.00" r="1.25" fill="none" stroke="#e2509a" stroke-width="0.75"/>
<circle cx="401.40" cy="494.00" r="1.25" fill="none" stroke="#e2509a" stroke-width="0.75"/>
<circle cx="398.80" cy="495.50" r="1.25" fill="none" stroke="#e2509a" stroke-width="0.75"/>
<rect x="405.00" y="490.00" width="7.20" height="41.80" fill="#f38fbf"/>
<line x1="408.50" y1="479.10" x2="408.50" y2="490.00" stroke="#e2509a" stroke-width="0.8"/>
<line x1="406.60" y1="479.50" x2="410.60" y2="479.50" stroke="#e2509a" stroke-width="0.8"/>
<circle cx="408.60" cy="473.90" r="1.25" fill="none" stroke="#e2509a" stroke-width="0.75"/>
<circle cx="408.60" cy="485.50" r="1.25" fill="none" stroke="#e2509a" stroke-width="0.75"/>
<circle cx="405.60" cy="490.30" r="1.25" fill="none" stroke="#e2509a" stroke-width="0.75"/>
<circle cx="411.60" cy="490.30" r="1.25" fill="none" stroke="#e2509a" stroke-width="0.75"/>
<line x1="363.50" y1="453.30" x2="363.50" y2="532.20" stroke="#222" stroke-width="1.15"/>
<line x1="360.70" y1="531.50" x2="363.70" y2="531.50" stroke="#222" stroke-width="1.15"/>
<text x="357.70" y="534.50" font-size="7.9" text-anchor="end" fill="#333">0</text>
<line x1="360.70" y1="506.50" x2="363.70" y2="506.50" stroke="#222" stroke-width="1.15"/>
<text x="357.70" y="509.33" font-size="7.9" text-anchor="end" fill="#333">2000</text>
<line x1="360.70" y1="481.50" x2="363.70" y2="481.50" stroke="#222" stroke-width="1.15"/>
<text x="357.70" y="484.17" font-size="7.9" text-anchor="end" fill="#333">4000</text>
<line x1="360.70" y1="456.50" x2="363.70" y2="456.50" stroke="#222" stroke-width="1.15"/>
<text x="357.70" y="459.00" font-size="7.9" text-anchor="end" fill="#333">6000</text>
<line x1="360.70" y1="531.50" x2="414.30" y2="531.50" stroke="#222" stroke-width="1.0"/>
<line x1="369.50" y1="531.80" x2="369.50" y2="534.10" stroke="#222" stroke-width="0.7"/>
<line x1="379.50" y1="531.80" x2="379.50" y2="534.10" stroke="#222" stroke-width="0.7"/>
<line x1="389.50" y1="531.80" x2="389.50" y2="534.10" stroke="#222" stroke-width="0.7"/>
<line x1="398.50" y1="531.80" x2="398.50" y2="534.10" stroke="#222" stroke-width="0.7"/>
<line x1="408.50" y1="531.80" x2="408.50" y2="534.10" stroke="#222" stroke-width="0.7"/>
<path d="M378.70 485.80V482.50H388.40V485.80" fill="none" stroke="#444" stroke-width="0.8"/>
<text x="383.55" y="482.00" font-size="7.5" text-anchor="middle" fill="#222">**</text>
<path d="M378.70 472.40V468.70H398.50V472.40" fill="none" stroke="#444" stroke-width="0.8"/>
<text x="388.60" y="468.20" font-size="7.5" text-anchor="middle" fill="#222">*</text>
<path d="M378.70 461.20V457.50H408.50V461.20" fill="none" stroke="#444" stroke-width="0.8"/>
<text x="393.60" y="457.00" font-size="7.5" text-anchor="middle" fill="#222">*</text>
<text x="311.10" y="546.30" font-size="8.2" text-anchor="start" fill="#222" textLength="46.50" lengthAdjust="spacingAndGlyphs">AB928 (μM):</text>
<text x="373.90" y="541.6" font-size="8.1" text-anchor="end" fill="#222" transform="rotate(-45 373.90 541.6)">0</text>
<text x="383.60" y="541.6" font-size="8.1" text-anchor="end" fill="#222" transform="rotate(-45 383.60 541.6)">0</text>
<text x="393.50" y="541.6" font-size="8.1" text-anchor="end" fill="#222" transform="rotate(-45 393.50 541.6)">10</text>
<text x="403.20" y="541.6" font-size="8.1" text-anchor="end" fill="#222" transform="rotate(-45 403.20 541.6)">20</text>
<text x="413.10" y="541.6" font-size="8.1" text-anchor="end" fill="#222" transform="rotate(-45 413.10 541.6)">30</text>
<text x="333.8" y="493.1" font-size="9.0" text-anchor="middle" fill="#222" font-weight="bold" textLength="34.5" lengthAdjust="spacingAndGlyphs" transform="rotate(-90 333.8 493.1)">CD25 gMFI</text>
<path d="M220.5 486.8 L239 486.8 C242 486.5 244 484 246 478 C248 472 250 466 252 464 L254 463.5 L256 463 L258 464.2 L260 464 L262 465.8 L264 466.2 L266 467.5 L268 468 L270 469.8 L272 470.2 L274 471.5 L276 472 L278 473 L280 474.5 L282 475.5 L284 477.2 L285.5 479.5 C286.5 482 287.5 485.5 289 486.8 L296.8 486.8" fill="none" stroke="#dc4f9c" stroke-width="1.0" stroke-dasharray="1 1" stroke-linejoin="round"/>
<path d="M220.5 500.8 L236 500.8 C239 500.6 241 499 243 495 C245 490 247 481 249.5 477.5 C250.5 476.5 251.5 476.5 252.5 477.5 C254.5 480 256 486 258 491 C260 495.5 263 499 268 500.3 L296.8 500.8" fill="none" stroke="#44174a" stroke-width="1.3" stroke-linejoin="round"/>
<path d="M220.5 514.8 L262 514.8 C266 514.5 269 512 272 507 C275 502 278 495 280.5 491.2 C281.5 490.2 282.2 490.5 283 492 C285 496 288 503 291 509 C292.5 512 294 514.3 296.8 514.8" fill="none" stroke="#c4c4c4" stroke-width="1.1" stroke-linejoin="round"/>
<path d="M236.5 529.5 C239 529 240.5 525 241.5 515 C242.2 508 242.6 503.6 243.2 503.6 C243.9 503.6 244.5 508 245.3 515 C246.3 523 247.8 528 251 529.5" fill="none" stroke="#111" stroke-width="1.2" stroke-linejoin="round"/>
<rect x="220.5" y="457.6" width="76.10000000000002" height="72.19999999999993" fill="none" stroke="#2a2a2a" stroke-width="1.2"/>
<line x1="224.60" y1="529.80" x2="224.60" y2="531.40" stroke="#444" stroke-width="0.6"/>
<line x1="229.00" y1="529.80" x2="229.00" y2="531.40" stroke="#444" stroke-width="0.6"/>
<line x1="232.50" y1="529.80" x2="232.50" y2="531.40" stroke="#444" stroke-width="0.6"/>
<line x1="235.00" y1="529.80" x2="235.00" y2="531.40" stroke="#444" stroke-width="0.6"/>
<line x1="237.40" y1="529.80" x2="237.40" y2="531.40" stroke="#444" stroke-width="0.6"/>
<line x1="240.00" y1="529.80" x2="240.00" y2="531.40" stroke="#444" stroke-width="0.6"/>
<line x1="243.00" y1="529.80" x2="243.00" y2="531.40" stroke="#444" stroke-width="0.6"/>
<line x1="246.00" y1="529.80" x2="246.00" y2="531.40" stroke="#444" stroke-width="0.6"/>
<line x1="249.50" y1="529.80" x2="249.50" y2="531.40" stroke="#444" stroke-width="0.6"/>
<line x1="256.00" y1="529.80" x2="256.00" y2="531.40" stroke="#444" stroke-width="0.6"/>
<line x1="260.00" y1="529.80" x2="260.00" y2="531.40" stroke="#444" stroke-width="0.6"/>
<line x1="263.00" y1="529.80" x2="263.00" y2="531.40" stroke="#444" stroke-width="0.6"/>
<line x1="265.00" y1="529.80" x2="265.00" y2="531.40" stroke="#444" stroke-width="0.6"/>
<line x1="267.00" y1="529.80" x2="267.00" y2="531.40" stroke="#444" stroke-width="0.6"/>
<line x1="268.50" y1="529.80" x2="268.50" y2="531.40" stroke="#444" stroke-width="0.6"/>
<line x1="269.80" y1="529.80" x2="269.80" y2="531.40" stroke="#444" stroke-width="0.6"/>
<line x1="271.20" y1="529.80" x2="271.20" y2="531.40" stroke="#444" stroke-width="0.6"/>
<line x1="277.50" y1="529.80" x2="277.50" y2="531.40" stroke="#444" stroke-width="0.6"/>
<line x1="281.50" y1="529.80" x2="281.50" y2="531.40" stroke="#444" stroke-width="0.6"/>
<line x1="284.00" y1="529.80" x2="284.00" y2="531.40" stroke="#444" stroke-width="0.6"/>
<line x1="286.00" y1="529.80" x2="286.00" y2="531.40" stroke="#444" stroke-width="0.6"/>
<line x1="287.50" y1="529.80" x2="287.50" y2="531.40" stroke="#444" stroke-width="0.6"/>
<line x1="289.30" y1="529.80" x2="289.30" y2="531.40" stroke="#444" stroke-width="0.6"/>
<line x1="295.00" y1="529.80" x2="295.00" y2="531.40" stroke="#444" stroke-width="0.6"/>
<text x="224.6" y="543.3" font-size="8.2" text-anchor="middle" fill="#222">−10<tspan font-size="6.3" dy="-3.3">3</tspan></text>
<text x="237.4" y="543.3" font-size="8.2" text-anchor="middle" fill="#222">0</text>
<text x="249.5" y="543.3" font-size="8.2" text-anchor="middle" fill="#222">10<tspan font-size="6.3" dy="-3.3">3</tspan></text>
<text x="270.2" y="543.3" font-size="8.2" text-anchor="middle" fill="#222">10<tspan font-size="6.3" dy="-3.3">4</tspan></text>
<text x="287.5" y="543.3" font-size="8.2" text-anchor="middle" fill="#222">10<tspan font-size="6.3" dy="-3.3">5</tspan></text>
<text x="257.70" y="554.60" font-size="8.4" text-anchor="middle" fill="#222">p-S6</text>
<line x1="226.70" y1="551.50" x2="238.20" y2="551.50" stroke="#333" stroke-width="0.9"/>
<line x1="276.50" y1="551.50" x2="287.50" y2="551.50" stroke="#111" stroke-width="1.1"/>
<path d="M284.5 548.6L290.5 551.6L284.5 554.6L286.0 551.6Z" fill="#111"/>
<path d="M427.8 483.5 L455 483.5 C458 483.3 461 482 464 479.5 C467 476.5 469 471 471 465 C472.5 460.5 473.5 458.5 474.5 458.5 C475.5 458.5 476.5 460.5 478 465 C480 471 482 477 484 481 C485 483 486 483.5 488 483.5 L502.7 483.5" fill="none" stroke="#dc4f9c" stroke-width="1.0" stroke-dasharray="1 1" stroke-linejoin="round"/>
<path d="M427.8 497.8 L447 497.8 C448.5 497.5 449.5 496.5 451 496.5 C452.5 496.5 453.5 496 455 494.5 C458 491 461 487 464 481 C466 477 468 474 470.4 473.5 C472.5 473.5 474 476 476 480 C478 485 480 491 482 495 C483 497 484 497.8 486 497.8 L502.7 497.8" fill="none" stroke="#44174a" stroke-width="1.3" stroke-linejoin="round"/>
<path d="M427.8 512.3 L446.5 512.3 L450 510.5 L453 509 L455 508.2 L458 506 L460 505.5 L462 503 L464 502.5 L466 500 L468 498.5 L469.5 495.5 L471 496 L472.5 492.5 L474 493 L475 490.5 L476.5 491.5 L477.5 489.8 L479 493 C480.5 496 482 501 483.5 505.5 C485 509.5 486.5 512 489.5 512.3 L502.7 512.3" fill="none" stroke="#c4c4c4" stroke-width="1.1" stroke-linejoin="round"/>
<path d="M431 527.4 C433 526 434.5 520 436 511 C437 505 437.8 501 438.8 501 C439.8 501 440.8 504 442 509 C443.5 515 445 520 447 524 C448.5 526.5 450 527.2 452 527.4" fill="none" stroke="#111" stroke-width="1.2" stroke-linejoin="round"/>
<rect x="427.6" y="454.3" width="75.09999999999997" height="73.09999999999997" fill="none" stroke="#2a2a2a" stroke-width="1.2"/>
<line x1="431.00" y1="527.40" x2="431.00" y2="529.00" stroke="#444" stroke-width="0.6"/>
<line x1="434.00" y1="527.40" x2="434.00" y2="529.00" stroke="#444" stroke-width="0.6"/>
<line x1="437.60" y1="527.40" x2="437.60" y2="529.00" stroke="#444" stroke-width="0.6"/>
<line x1="440.00" y1="527.40" x2="440.00" y2="529.00" stroke="#444" stroke-width="0.6"/>
<line x1="445.00" y1="527.40" x2="445.00" y2="529.00" stroke="#444" stroke-width="0.6"/>
<line x1="450.00" y1="527.40" x2="450.00" y2="529.00" stroke="#444" stroke-width="0.6"/>
<line x1="455.00" y1="527.40" x2="455.00" y2="529.00" stroke="#444" stroke-width="0.6"/>
<line x1="460.00" y1="527.40" x2="460.00" y2="529.00" stroke="#444" stroke-width="0.6"/>
<line x1="465.00" y1="527.40" x2="465.00" y2="529.00" stroke="#444" stroke-width="0.6"/>
<line x1="470.00" y1="527.40" x2="470.00" y2="529.00" stroke="#444" stroke-width="0.6"/>
<line x1="475.00" y1="527.40" x2="475.00" y2="529.00" stroke="#444" stroke-width="0.6"/>
<line x1="480.00" y1="527.40" x2="480.00" y2="529.00" stroke="#444" stroke-width="0.6"/>
<line x1="485.00" y1="527.40" x2="485.00" y2="529.00" stroke="#444" stroke-width="0.6"/>
<line x1="490.00" y1="527.40" x2="490.00" y2="529.00" stroke="#444" stroke-width="0.6"/>
<line x1="493.40" y1="527.40" x2="493.40" y2="529.00" stroke="#444" stroke-width="0.6"/>
<line x1="500.00" y1="527.40" x2="500.00" y2="529.00" stroke="#444" stroke-width="0.6"/>
<text x="437.6" y="540.9" font-size="8.2" text-anchor="middle" fill="#222">0</text>
<text x="494.6" y="540.9" font-size="8.2" text-anchor="middle" fill="#222">10<tspan font-size="6.3" dy="-3.3">5</tspan></text>
<text x="464.20" y="551.50" font-size="8.4" text-anchor="middle" fill="#222">CD25</text>
<line x1="433.80" y1="548.50" x2="445.30" y2="548.50" stroke="#333" stroke-width="0.9"/>
<line x1="483.00" y1="548.50" x2="494.60" y2="548.50" stroke="#111" stroke-width="1.1"/>
<path d="M491.6 545.7L497.6 548.7L491.6 551.7L493.1 548.7Z" fill="#111"/></svg></body></html>
